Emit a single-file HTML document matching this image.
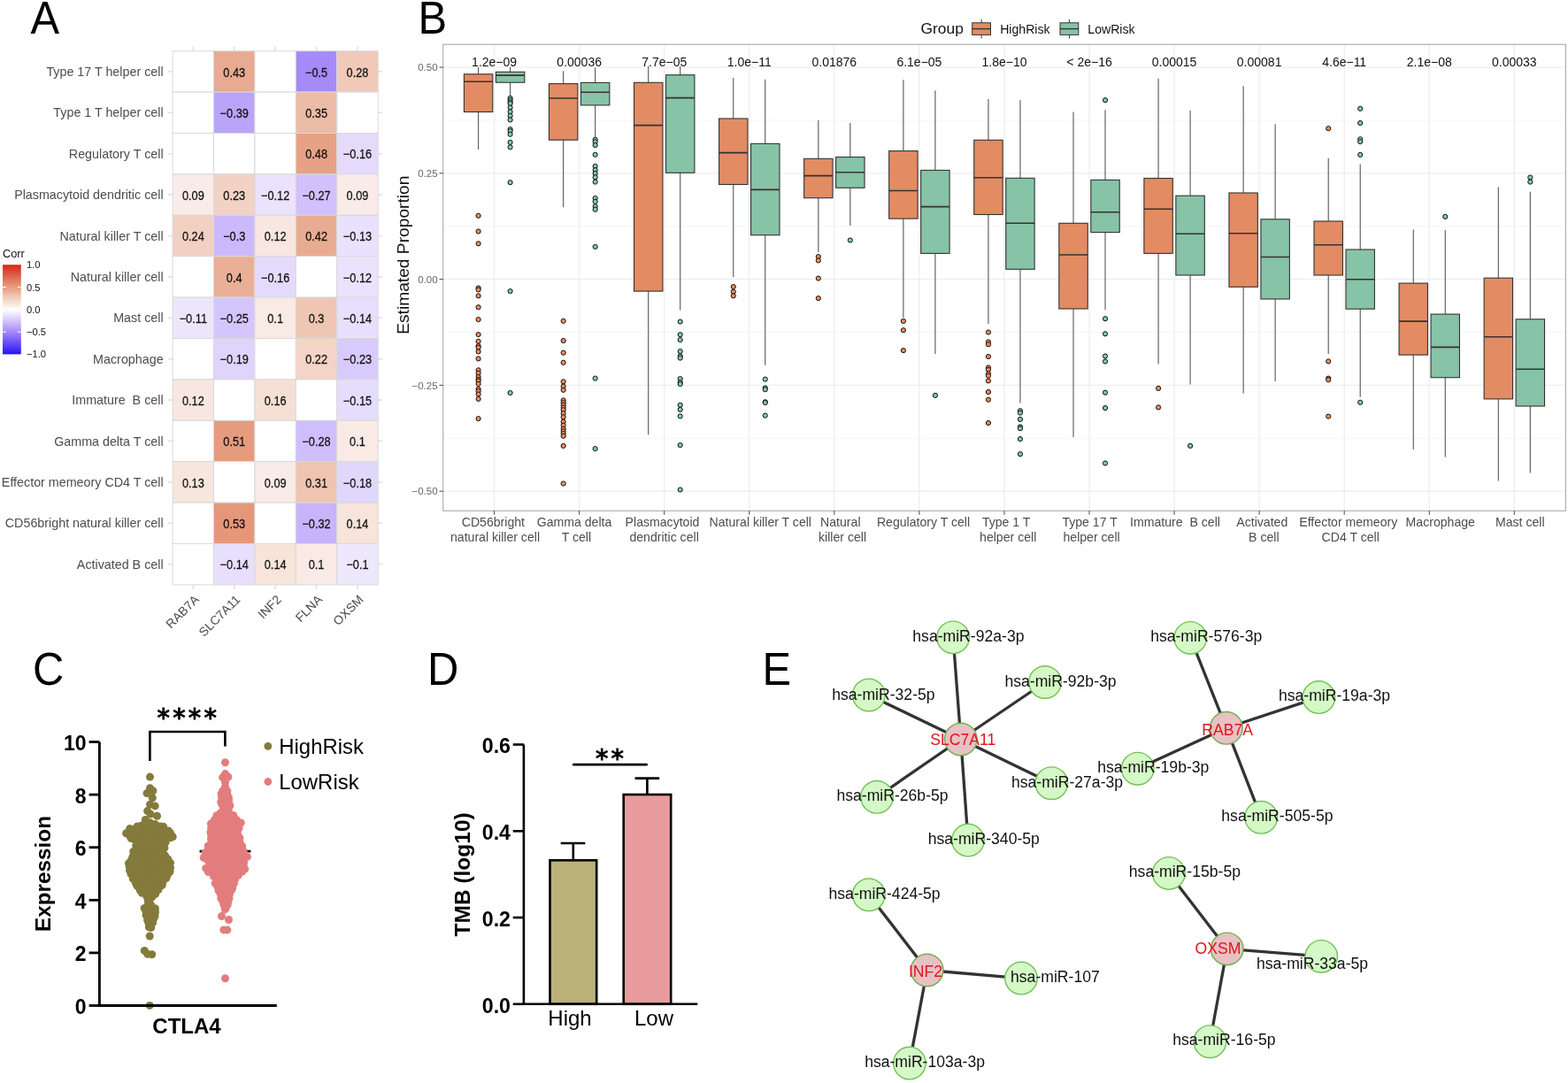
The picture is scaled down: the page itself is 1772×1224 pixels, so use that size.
<!DOCTYPE html><html><head><meta charset="utf-8"><title>Figure</title><style>
html,body{margin:0;padding:0;background:#fff;width:1772px;height:1224px;overflow:hidden}
svg{display:block}
text{font-family:'Liberation Sans', Arial, Helvetica, sans-serif}
</style></head><body>
<svg width="1772" height="1224" viewBox="0 0 1772 1224">
<rect width="1772" height="1224" fill="#fff"/>
<text transform="translate(34.5,37.9) scale(0.95,1)" font-size="51.5" fill="#000">A</text>
<text transform="translate(472.5,37.8) scale(0.95,1)" font-size="51.5" fill="#000">B</text>
<text transform="translate(37.0,774.2) scale(0.95,1)" font-size="51.5" fill="#000">C</text>
<text transform="translate(483.0,773.6) scale(0.95,1)" font-size="51.5" fill="#000">D</text>
<text transform="translate(861.5,773.8) scale(0.95,1)" font-size="51.5" fill="#000">E</text>
<line x1="218.3" y1="52.7" x2="218.3" y2="57.7" stroke="#E0E0E0" stroke-width="1.6"/>
<line x1="218.3" y1="660.9" x2="218.3" y2="665.9" stroke="#E0E0E0" stroke-width="1.6"/>
<line x1="264.7" y1="52.7" x2="264.7" y2="57.7" stroke="#E0E0E0" stroke-width="1.6"/>
<line x1="264.7" y1="660.9" x2="264.7" y2="665.9" stroke="#E0E0E0" stroke-width="1.6"/>
<line x1="311.1" y1="52.7" x2="311.1" y2="57.7" stroke="#E0E0E0" stroke-width="1.6"/>
<line x1="311.1" y1="660.9" x2="311.1" y2="665.9" stroke="#E0E0E0" stroke-width="1.6"/>
<line x1="357.6" y1="52.7" x2="357.6" y2="57.7" stroke="#E0E0E0" stroke-width="1.6"/>
<line x1="357.6" y1="660.9" x2="357.6" y2="665.9" stroke="#E0E0E0" stroke-width="1.6"/>
<line x1="404.0" y1="52.7" x2="404.0" y2="57.7" stroke="#E0E0E0" stroke-width="1.6"/>
<line x1="404.0" y1="660.9" x2="404.0" y2="665.9" stroke="#E0E0E0" stroke-width="1.6"/>
<line x1="190.1" y1="80.9" x2="195.1" y2="80.9" stroke="#E0E0E0" stroke-width="1.6"/>
<line x1="427.2" y1="80.9" x2="432.2" y2="80.9" stroke="#E0E0E0" stroke-width="1.6"/>
<line x1="190.1" y1="127.3" x2="195.1" y2="127.3" stroke="#E0E0E0" stroke-width="1.6"/>
<line x1="427.2" y1="127.3" x2="432.2" y2="127.3" stroke="#E0E0E0" stroke-width="1.6"/>
<line x1="190.1" y1="173.7" x2="195.1" y2="173.7" stroke="#E0E0E0" stroke-width="1.6"/>
<line x1="427.2" y1="173.7" x2="432.2" y2="173.7" stroke="#E0E0E0" stroke-width="1.6"/>
<line x1="190.1" y1="220.1" x2="195.1" y2="220.1" stroke="#E0E0E0" stroke-width="1.6"/>
<line x1="427.2" y1="220.1" x2="432.2" y2="220.1" stroke="#E0E0E0" stroke-width="1.6"/>
<line x1="190.1" y1="266.5" x2="195.1" y2="266.5" stroke="#E0E0E0" stroke-width="1.6"/>
<line x1="427.2" y1="266.5" x2="432.2" y2="266.5" stroke="#E0E0E0" stroke-width="1.6"/>
<line x1="190.1" y1="312.9" x2="195.1" y2="312.9" stroke="#E0E0E0" stroke-width="1.6"/>
<line x1="427.2" y1="312.9" x2="432.2" y2="312.9" stroke="#E0E0E0" stroke-width="1.6"/>
<line x1="190.1" y1="359.3" x2="195.1" y2="359.3" stroke="#E0E0E0" stroke-width="1.6"/>
<line x1="427.2" y1="359.3" x2="432.2" y2="359.3" stroke="#E0E0E0" stroke-width="1.6"/>
<line x1="190.1" y1="405.7" x2="195.1" y2="405.7" stroke="#E0E0E0" stroke-width="1.6"/>
<line x1="427.2" y1="405.7" x2="432.2" y2="405.7" stroke="#E0E0E0" stroke-width="1.6"/>
<line x1="190.1" y1="452.1" x2="195.1" y2="452.1" stroke="#E0E0E0" stroke-width="1.6"/>
<line x1="427.2" y1="452.1" x2="432.2" y2="452.1" stroke="#E0E0E0" stroke-width="1.6"/>
<line x1="190.1" y1="498.5" x2="195.1" y2="498.5" stroke="#E0E0E0" stroke-width="1.6"/>
<line x1="427.2" y1="498.5" x2="432.2" y2="498.5" stroke="#E0E0E0" stroke-width="1.6"/>
<line x1="190.1" y1="544.9" x2="195.1" y2="544.9" stroke="#E0E0E0" stroke-width="1.6"/>
<line x1="427.2" y1="544.9" x2="432.2" y2="544.9" stroke="#E0E0E0" stroke-width="1.6"/>
<line x1="190.1" y1="591.3" x2="195.1" y2="591.3" stroke="#E0E0E0" stroke-width="1.6"/>
<line x1="427.2" y1="591.3" x2="432.2" y2="591.3" stroke="#E0E0E0" stroke-width="1.6"/>
<line x1="190.1" y1="637.7" x2="195.1" y2="637.7" stroke="#E0E0E0" stroke-width="1.6"/>
<line x1="427.2" y1="637.7" x2="432.2" y2="637.7" stroke="#E0E0E0" stroke-width="1.6"/>
<rect x="195.10" y="57.70" width="46.42" height="46.40" fill="#FFFFFF" stroke="#D9D9D9" stroke-width="1"/>
<rect x="241.52" y="57.70" width="46.42" height="46.40" fill="#E8AA90" stroke="#D9D9D9" stroke-width="1"/>
<rect x="287.94" y="57.70" width="46.42" height="46.40" fill="#FFFFFF" stroke="#D9D9D9" stroke-width="1"/>
<rect x="334.36" y="57.70" width="46.42" height="46.40" fill="#A58AF8" stroke="#D9D9D9" stroke-width="1"/>
<rect x="380.78" y="57.70" width="46.42" height="46.40" fill="#F0C9B8" stroke="#D9D9D9" stroke-width="1"/>
<rect x="195.10" y="104.10" width="46.42" height="46.40" fill="#FFFFFF" stroke="#D9D9D9" stroke-width="1"/>
<rect x="241.52" y="104.10" width="46.42" height="46.40" fill="#BAA4F9" stroke="#D9D9D9" stroke-width="1"/>
<rect x="287.94" y="104.10" width="46.42" height="46.40" fill="#FFFFFF" stroke="#D9D9D9" stroke-width="1"/>
<rect x="334.36" y="104.10" width="46.42" height="46.40" fill="#ECBBA5" stroke="#D9D9D9" stroke-width="1"/>
<rect x="380.78" y="104.10" width="46.42" height="46.40" fill="#FFFFFF" stroke="#D9D9D9" stroke-width="1"/>
<rect x="195.10" y="150.50" width="46.42" height="46.40" fill="#FFFFFF" stroke="#D9D9D9" stroke-width="1"/>
<rect x="241.52" y="150.50" width="46.42" height="46.40" fill="#FFFFFF" stroke="#D9D9D9" stroke-width="1"/>
<rect x="287.94" y="150.50" width="46.42" height="46.40" fill="#FFFFFF" stroke="#D9D9D9" stroke-width="1"/>
<rect x="334.36" y="150.50" width="46.42" height="46.40" fill="#E7A185" stroke="#D9D9D9" stroke-width="1"/>
<rect x="380.78" y="150.50" width="46.42" height="46.40" fill="#E4DBFC" stroke="#D9D9D9" stroke-width="1"/>
<rect x="195.10" y="196.90" width="46.42" height="46.40" fill="#F9ECE8" stroke="#D9D9D9" stroke-width="1"/>
<rect x="241.52" y="196.90" width="46.42" height="46.40" fill="#F2D2C4" stroke="#D9D9D9" stroke-width="1"/>
<rect x="287.94" y="196.90" width="46.42" height="46.40" fill="#EBE3FD" stroke="#D9D9D9" stroke-width="1"/>
<rect x="334.36" y="196.90" width="46.42" height="46.40" fill="#D1C0FC" stroke="#D9D9D9" stroke-width="1"/>
<rect x="380.78" y="196.90" width="46.42" height="46.40" fill="#F9ECE8" stroke="#D9D9D9" stroke-width="1"/>
<rect x="195.10" y="243.30" width="46.42" height="46.40" fill="#F2D0C2" stroke="#D9D9D9" stroke-width="1"/>
<rect x="241.52" y="243.30" width="46.42" height="46.40" fill="#CCB9FB" stroke="#D9D9D9" stroke-width="1"/>
<rect x="287.94" y="243.30" width="46.42" height="46.40" fill="#F8E7E0" stroke="#D9D9D9" stroke-width="1"/>
<rect x="334.36" y="243.30" width="46.42" height="46.40" fill="#E8AC92" stroke="#D9D9D9" stroke-width="1"/>
<rect x="380.78" y="243.30" width="46.42" height="46.40" fill="#E9E1FD" stroke="#D9D9D9" stroke-width="1"/>
<rect x="195.10" y="289.70" width="46.42" height="46.40" fill="#FFFFFF" stroke="#D9D9D9" stroke-width="1"/>
<rect x="241.52" y="289.70" width="46.42" height="46.40" fill="#E9B097" stroke="#D9D9D9" stroke-width="1"/>
<rect x="287.94" y="289.70" width="46.42" height="46.40" fill="#E4DBFC" stroke="#D9D9D9" stroke-width="1"/>
<rect x="334.36" y="289.70" width="46.42" height="46.40" fill="#FFFFFF" stroke="#D9D9D9" stroke-width="1"/>
<rect x="380.78" y="289.70" width="46.42" height="46.40" fill="#EBE3FD" stroke="#D9D9D9" stroke-width="1"/>
<rect x="195.10" y="336.10" width="46.42" height="46.40" fill="#ECE6FD" stroke="#D9D9D9" stroke-width="1"/>
<rect x="241.52" y="336.10" width="46.42" height="46.40" fill="#D4C6FC" stroke="#D9D9D9" stroke-width="1"/>
<rect x="287.94" y="336.10" width="46.42" height="46.40" fill="#F9EAE5" stroke="#D9D9D9" stroke-width="1"/>
<rect x="334.36" y="336.10" width="46.42" height="46.40" fill="#EFC6B3" stroke="#D9D9D9" stroke-width="1"/>
<rect x="380.78" y="336.10" width="46.42" height="46.40" fill="#E7DFFD" stroke="#D9D9D9" stroke-width="1"/>
<rect x="195.10" y="382.50" width="46.42" height="46.40" fill="#FFFFFF" stroke="#D9D9D9" stroke-width="1"/>
<rect x="241.52" y="382.50" width="46.42" height="46.40" fill="#DED4FC" stroke="#D9D9D9" stroke-width="1"/>
<rect x="287.94" y="382.50" width="46.42" height="46.40" fill="#FFFFFF" stroke="#D9D9D9" stroke-width="1"/>
<rect x="334.36" y="382.50" width="46.42" height="46.40" fill="#F3D4C7" stroke="#D9D9D9" stroke-width="1"/>
<rect x="380.78" y="382.50" width="46.42" height="46.40" fill="#D8CAFC" stroke="#D9D9D9" stroke-width="1"/>
<rect x="195.10" y="428.90" width="46.42" height="46.40" fill="#F8E7E0" stroke="#D9D9D9" stroke-width="1"/>
<rect x="241.52" y="428.90" width="46.42" height="46.40" fill="#FFFFFF" stroke="#D9D9D9" stroke-width="1"/>
<rect x="287.94" y="428.90" width="46.42" height="46.40" fill="#F6E0D5" stroke="#D9D9D9" stroke-width="1"/>
<rect x="334.36" y="428.90" width="46.42" height="46.40" fill="#FFFFFF" stroke="#D9D9D9" stroke-width="1"/>
<rect x="380.78" y="428.90" width="46.42" height="46.40" fill="#E5DDFD" stroke="#D9D9D9" stroke-width="1"/>
<rect x="195.10" y="475.30" width="46.42" height="46.40" fill="#FFFFFF" stroke="#D9D9D9" stroke-width="1"/>
<rect x="241.52" y="475.30" width="46.42" height="46.40" fill="#E69B7E" stroke="#D9D9D9" stroke-width="1"/>
<rect x="287.94" y="475.30" width="46.42" height="46.40" fill="#FFFFFF" stroke="#D9D9D9" stroke-width="1"/>
<rect x="334.36" y="475.30" width="46.42" height="46.40" fill="#CFBEFC" stroke="#D9D9D9" stroke-width="1"/>
<rect x="380.78" y="475.30" width="46.42" height="46.40" fill="#F9EAE5" stroke="#D9D9D9" stroke-width="1"/>
<rect x="195.10" y="521.70" width="46.42" height="46.40" fill="#F7E6DD" stroke="#D9D9D9" stroke-width="1"/>
<rect x="241.52" y="521.70" width="46.42" height="46.40" fill="#FFFFFF" stroke="#D9D9D9" stroke-width="1"/>
<rect x="287.94" y="521.70" width="46.42" height="46.40" fill="#F9ECE8" stroke="#D9D9D9" stroke-width="1"/>
<rect x="334.36" y="521.70" width="46.42" height="46.40" fill="#EFC4B0" stroke="#D9D9D9" stroke-width="1"/>
<rect x="380.78" y="521.70" width="46.42" height="46.40" fill="#E0D7FC" stroke="#D9D9D9" stroke-width="1"/>
<rect x="195.10" y="568.10" width="46.42" height="46.40" fill="#FFFFFF" stroke="#D9D9D9" stroke-width="1"/>
<rect x="241.52" y="568.10" width="46.42" height="46.40" fill="#E6977A" stroke="#D9D9D9" stroke-width="1"/>
<rect x="287.94" y="568.10" width="46.42" height="46.40" fill="#FFFFFF" stroke="#D9D9D9" stroke-width="1"/>
<rect x="334.36" y="568.10" width="46.42" height="46.40" fill="#C8B4FA" stroke="#D9D9D9" stroke-width="1"/>
<rect x="380.78" y="568.10" width="46.42" height="46.40" fill="#F7E4DA" stroke="#D9D9D9" stroke-width="1"/>
<rect x="195.10" y="614.50" width="46.42" height="46.40" fill="#FFFFFF" stroke="#D9D9D9" stroke-width="1"/>
<rect x="241.52" y="614.50" width="46.42" height="46.40" fill="#E7DFFD" stroke="#D9D9D9" stroke-width="1"/>
<rect x="287.94" y="614.50" width="46.42" height="46.40" fill="#F7E4DA" stroke="#D9D9D9" stroke-width="1"/>
<rect x="334.36" y="614.50" width="46.42" height="46.40" fill="#F9EAE5" stroke="#D9D9D9" stroke-width="1"/>
<rect x="380.78" y="614.50" width="46.42" height="46.40" fill="#EEE8FD" stroke="#D9D9D9" stroke-width="1"/>
<text transform="translate(264.73,86.50) scale(0.875,1)" font-size="14.6" fill="#111" stroke="#111" stroke-width="0.25" text-anchor="middle">0.43</text>
<text transform="translate(357.57,86.50) scale(0.875,1)" font-size="14.6" fill="#111" stroke="#111" stroke-width="0.25" text-anchor="middle">−0.5</text>
<text transform="translate(403.99,86.50) scale(0.875,1)" font-size="14.6" fill="#111" stroke="#111" stroke-width="0.25" text-anchor="middle">0.28</text>
<text transform="translate(264.73,132.90) scale(0.875,1)" font-size="14.6" fill="#111" stroke="#111" stroke-width="0.25" text-anchor="middle">−0.39</text>
<text transform="translate(357.57,132.90) scale(0.875,1)" font-size="14.6" fill="#111" stroke="#111" stroke-width="0.25" text-anchor="middle">0.35</text>
<text transform="translate(357.57,179.30) scale(0.875,1)" font-size="14.6" fill="#111" stroke="#111" stroke-width="0.25" text-anchor="middle">0.48</text>
<text transform="translate(403.99,179.30) scale(0.875,1)" font-size="14.6" fill="#111" stroke="#111" stroke-width="0.25" text-anchor="middle">−0.16</text>
<text transform="translate(218.31,225.70) scale(0.875,1)" font-size="14.6" fill="#111" stroke="#111" stroke-width="0.25" text-anchor="middle">0.09</text>
<text transform="translate(264.73,225.70) scale(0.875,1)" font-size="14.6" fill="#111" stroke="#111" stroke-width="0.25" text-anchor="middle">0.23</text>
<text transform="translate(311.15,225.70) scale(0.875,1)" font-size="14.6" fill="#111" stroke="#111" stroke-width="0.25" text-anchor="middle">−0.12</text>
<text transform="translate(357.57,225.70) scale(0.875,1)" font-size="14.6" fill="#111" stroke="#111" stroke-width="0.25" text-anchor="middle">−0.27</text>
<text transform="translate(403.99,225.70) scale(0.875,1)" font-size="14.6" fill="#111" stroke="#111" stroke-width="0.25" text-anchor="middle">0.09</text>
<text transform="translate(218.31,272.10) scale(0.875,1)" font-size="14.6" fill="#111" stroke="#111" stroke-width="0.25" text-anchor="middle">0.24</text>
<text transform="translate(264.73,272.10) scale(0.875,1)" font-size="14.6" fill="#111" stroke="#111" stroke-width="0.25" text-anchor="middle">−0.3</text>
<text transform="translate(311.15,272.10) scale(0.875,1)" font-size="14.6" fill="#111" stroke="#111" stroke-width="0.25" text-anchor="middle">0.12</text>
<text transform="translate(357.57,272.10) scale(0.875,1)" font-size="14.6" fill="#111" stroke="#111" stroke-width="0.25" text-anchor="middle">0.42</text>
<text transform="translate(403.99,272.10) scale(0.875,1)" font-size="14.6" fill="#111" stroke="#111" stroke-width="0.25" text-anchor="middle">−0.13</text>
<text transform="translate(264.73,318.50) scale(0.875,1)" font-size="14.6" fill="#111" stroke="#111" stroke-width="0.25" text-anchor="middle">0.4</text>
<text transform="translate(311.15,318.50) scale(0.875,1)" font-size="14.6" fill="#111" stroke="#111" stroke-width="0.25" text-anchor="middle">−0.16</text>
<text transform="translate(403.99,318.50) scale(0.875,1)" font-size="14.6" fill="#111" stroke="#111" stroke-width="0.25" text-anchor="middle">−0.12</text>
<text transform="translate(218.31,364.90) scale(0.875,1)" font-size="14.6" fill="#111" stroke="#111" stroke-width="0.25" text-anchor="middle">−0.11</text>
<text transform="translate(264.73,364.90) scale(0.875,1)" font-size="14.6" fill="#111" stroke="#111" stroke-width="0.25" text-anchor="middle">−0.25</text>
<text transform="translate(311.15,364.90) scale(0.875,1)" font-size="14.6" fill="#111" stroke="#111" stroke-width="0.25" text-anchor="middle">0.1</text>
<text transform="translate(357.57,364.90) scale(0.875,1)" font-size="14.6" fill="#111" stroke="#111" stroke-width="0.25" text-anchor="middle">0.3</text>
<text transform="translate(403.99,364.90) scale(0.875,1)" font-size="14.6" fill="#111" stroke="#111" stroke-width="0.25" text-anchor="middle">−0.14</text>
<text transform="translate(264.73,411.30) scale(0.875,1)" font-size="14.6" fill="#111" stroke="#111" stroke-width="0.25" text-anchor="middle">−0.19</text>
<text transform="translate(357.57,411.30) scale(0.875,1)" font-size="14.6" fill="#111" stroke="#111" stroke-width="0.25" text-anchor="middle">0.22</text>
<text transform="translate(403.99,411.30) scale(0.875,1)" font-size="14.6" fill="#111" stroke="#111" stroke-width="0.25" text-anchor="middle">−0.23</text>
<text transform="translate(218.31,457.70) scale(0.875,1)" font-size="14.6" fill="#111" stroke="#111" stroke-width="0.25" text-anchor="middle">0.12</text>
<text transform="translate(311.15,457.70) scale(0.875,1)" font-size="14.6" fill="#111" stroke="#111" stroke-width="0.25" text-anchor="middle">0.16</text>
<text transform="translate(403.99,457.70) scale(0.875,1)" font-size="14.6" fill="#111" stroke="#111" stroke-width="0.25" text-anchor="middle">−0.15</text>
<text transform="translate(264.73,504.10) scale(0.875,1)" font-size="14.6" fill="#111" stroke="#111" stroke-width="0.25" text-anchor="middle">0.51</text>
<text transform="translate(357.57,504.10) scale(0.875,1)" font-size="14.6" fill="#111" stroke="#111" stroke-width="0.25" text-anchor="middle">−0.28</text>
<text transform="translate(403.99,504.10) scale(0.875,1)" font-size="14.6" fill="#111" stroke="#111" stroke-width="0.25" text-anchor="middle">0.1</text>
<text transform="translate(218.31,550.50) scale(0.875,1)" font-size="14.6" fill="#111" stroke="#111" stroke-width="0.25" text-anchor="middle">0.13</text>
<text transform="translate(311.15,550.50) scale(0.875,1)" font-size="14.6" fill="#111" stroke="#111" stroke-width="0.25" text-anchor="middle">0.09</text>
<text transform="translate(357.57,550.50) scale(0.875,1)" font-size="14.6" fill="#111" stroke="#111" stroke-width="0.25" text-anchor="middle">0.31</text>
<text transform="translate(403.99,550.50) scale(0.875,1)" font-size="14.6" fill="#111" stroke="#111" stroke-width="0.25" text-anchor="middle">−0.18</text>
<text transform="translate(264.73,596.90) scale(0.875,1)" font-size="14.6" fill="#111" stroke="#111" stroke-width="0.25" text-anchor="middle">0.53</text>
<text transform="translate(357.57,596.90) scale(0.875,1)" font-size="14.6" fill="#111" stroke="#111" stroke-width="0.25" text-anchor="middle">−0.32</text>
<text transform="translate(403.99,596.90) scale(0.875,1)" font-size="14.6" fill="#111" stroke="#111" stroke-width="0.25" text-anchor="middle">0.14</text>
<text transform="translate(264.73,643.30) scale(0.875,1)" font-size="14.6" fill="#111" stroke="#111" stroke-width="0.25" text-anchor="middle">−0.14</text>
<text transform="translate(311.15,643.30) scale(0.875,1)" font-size="14.6" fill="#111" stroke="#111" stroke-width="0.25" text-anchor="middle">0.14</text>
<text transform="translate(357.57,643.30) scale(0.875,1)" font-size="14.6" fill="#111" stroke="#111" stroke-width="0.25" text-anchor="middle">0.1</text>
<text transform="translate(403.99,643.30) scale(0.875,1)" font-size="14.6" fill="#111" stroke="#111" stroke-width="0.25" text-anchor="middle">−0.1</text>
<text x="184.6" y="85.90" font-size="14.3" fill="#4D4D4D" text-anchor="end" xml:space="preserve">Type 17 T helper cell</text>
<text x="184.6" y="132.30" font-size="14.3" fill="#4D4D4D" text-anchor="end" xml:space="preserve">Type 1 T helper cell</text>
<text x="184.6" y="178.70" font-size="14.3" fill="#4D4D4D" text-anchor="end" xml:space="preserve">Regulatory T cell</text>
<text x="184.6" y="225.10" font-size="14.3" fill="#4D4D4D" text-anchor="end" xml:space="preserve">Plasmacytoid dendritic cell</text>
<text x="184.6" y="271.50" font-size="14.3" fill="#4D4D4D" text-anchor="end" xml:space="preserve">Natural killer T cell</text>
<text x="184.6" y="317.90" font-size="14.3" fill="#4D4D4D" text-anchor="end" xml:space="preserve">Natural killer cell</text>
<text x="184.6" y="364.30" font-size="14.3" fill="#4D4D4D" text-anchor="end" xml:space="preserve">Mast cell</text>
<text x="184.6" y="410.70" font-size="14.3" fill="#4D4D4D" text-anchor="end" xml:space="preserve">Macrophage</text>
<text x="184.6" y="457.10" font-size="14.3" fill="#4D4D4D" text-anchor="end" xml:space="preserve">Immature  B cell</text>
<text x="184.6" y="503.50" font-size="14.3" fill="#4D4D4D" text-anchor="end" xml:space="preserve">Gamma delta T cell</text>
<text x="184.6" y="549.90" font-size="14.3" fill="#4D4D4D" text-anchor="end" xml:space="preserve">Effector memeory CD4 T cell</text>
<text x="184.6" y="596.30" font-size="14.3" fill="#4D4D4D" text-anchor="end" xml:space="preserve">CD56bright natural killer cell</text>
<text x="184.6" y="642.70" font-size="14.3" fill="#4D4D4D" text-anchor="end" xml:space="preserve">Activated B cell</text>
<text transform="translate(225.81,678.50) rotate(-45)" font-size="14" fill="#4D4D4D" text-anchor="end">RAB7A</text>
<text transform="translate(272.23,678.50) rotate(-45)" font-size="14" fill="#4D4D4D" text-anchor="end">SLC7A11</text>
<text transform="translate(318.65,678.50) rotate(-45)" font-size="14" fill="#4D4D4D" text-anchor="end">INF2</text>
<text transform="translate(365.07,678.50) rotate(-45)" font-size="14" fill="#4D4D4D" text-anchor="end">FLNA</text>
<text transform="translate(411.49,678.50) rotate(-45)" font-size="14" fill="#4D4D4D" text-anchor="end">OXSM</text>
<text x="3" y="290.6" font-size="12.8" fill="#111">Corr</text>
<defs><linearGradient id="cg" x1="0" y1="0" x2="0" y2="1">
<stop offset="0.000" stop-color="#D62618"/>
<stop offset="0.050" stop-color="#D93E2D"/>
<stop offset="0.100" stop-color="#DD5642"/>
<stop offset="0.150" stop-color="#E06E57"/>
<stop offset="0.200" stop-color="#E4866B"/>
<stop offset="0.250" stop-color="#E79D81"/>
<stop offset="0.300" stop-color="#E9B097"/>
<stop offset="0.350" stop-color="#EFC6B3"/>
<stop offset="0.400" stop-color="#F4D8CC"/>
<stop offset="0.450" stop-color="#F9EAE5"/>
<stop offset="0.500" stop-color="#FFFFFF"/>
<stop offset="0.550" stop-color="#EEE8FD"/>
<stop offset="0.600" stop-color="#DDD2FC"/>
<stop offset="0.650" stop-color="#CCB9FB"/>
<stop offset="0.700" stop-color="#B8A1F9"/>
<stop offset="0.750" stop-color="#A58AF8"/>
<stop offset="0.800" stop-color="#8C72F8"/>
<stop offset="0.850" stop-color="#725AF7"/>
<stop offset="0.900" stop-color="#5942F7"/>
<stop offset="0.950" stop-color="#3F2AF6"/>
<stop offset="1.000" stop-color="#2612F6"/>
</linearGradient></defs>
<rect x="3" y="299.2" width="20.8" height="101.2" fill="url(#cg)"/>
<line x1="3" y1="324.5" x2="7" y2="324.5" stroke="#fff" stroke-width="1"/>
<line x1="19.8" y1="324.5" x2="23.8" y2="324.5" stroke="#fff" stroke-width="1"/>
<line x1="3" y1="375.1" x2="7" y2="375.1" stroke="#fff" stroke-width="1"/>
<line x1="19.8" y1="375.1" x2="23.8" y2="375.1" stroke="#fff" stroke-width="1"/>
<line x1="3" y1="349.8" x2="7" y2="349.8" stroke="#fff" stroke-width="1"/>
<line x1="19.8" y1="349.8" x2="23.8" y2="349.8" stroke="#fff" stroke-width="1"/>
<text x="30.0" y="303.2" font-size="11.2" fill="#111">1.0</text>
<text x="30.0" y="328.5" font-size="11.2" fill="#111">0.5</text>
<text x="30.0" y="353.8" font-size="11.2" fill="#111">0.0</text>
<text x="30.0" y="379.1" font-size="11.2" fill="#111">−0.5</text>
<text x="30.0" y="404.4" font-size="11.2" fill="#111">−1.0</text>
<rect x="500.8" y="50.2" width="1268.6" height="527.1" fill="#fff"/>
<line x1="500.8" y1="135.94" x2="1769.4" y2="135.94" stroke="#F4F4F4" stroke-width="0.9"/>
<line x1="500.8" y1="255.71" x2="1769.4" y2="255.71" stroke="#F4F4F4" stroke-width="0.9"/>
<line x1="500.8" y1="375.49" x2="1769.4" y2="375.49" stroke="#F4F4F4" stroke-width="0.9"/>
<line x1="500.8" y1="495.26" x2="1769.4" y2="495.26" stroke="#F4F4F4" stroke-width="0.9"/>
<line x1="500.8" y1="76.05" x2="1769.4" y2="76.05" stroke="#EEEEEE" stroke-width="1.3"/>
<line x1="500.8" y1="195.83" x2="1769.4" y2="195.83" stroke="#EEEEEE" stroke-width="1.3"/>
<line x1="500.8" y1="315.60" x2="1769.4" y2="315.60" stroke="#EEEEEE" stroke-width="1.3"/>
<line x1="500.8" y1="435.38" x2="1769.4" y2="435.38" stroke="#EEEEEE" stroke-width="1.3"/>
<line x1="500.8" y1="555.15" x2="1769.4" y2="555.15" stroke="#EEEEEE" stroke-width="1.3"/>
<line x1="558.60" y1="50.2" x2="558.60" y2="577.3" stroke="#EEEEEE" stroke-width="1.3"/>
<line x1="654.66" y1="50.2" x2="654.66" y2="577.3" stroke="#EEEEEE" stroke-width="1.3"/>
<line x1="750.72" y1="50.2" x2="750.72" y2="577.3" stroke="#EEEEEE" stroke-width="1.3"/>
<line x1="846.78" y1="50.2" x2="846.78" y2="577.3" stroke="#EEEEEE" stroke-width="1.3"/>
<line x1="942.84" y1="50.2" x2="942.84" y2="577.3" stroke="#EEEEEE" stroke-width="1.3"/>
<line x1="1038.90" y1="50.2" x2="1038.90" y2="577.3" stroke="#EEEEEE" stroke-width="1.3"/>
<line x1="1134.96" y1="50.2" x2="1134.96" y2="577.3" stroke="#EEEEEE" stroke-width="1.3"/>
<line x1="1231.02" y1="50.2" x2="1231.02" y2="577.3" stroke="#EEEEEE" stroke-width="1.3"/>
<line x1="1327.08" y1="50.2" x2="1327.08" y2="577.3" stroke="#EEEEEE" stroke-width="1.3"/>
<line x1="1423.14" y1="50.2" x2="1423.14" y2="577.3" stroke="#EEEEEE" stroke-width="1.3"/>
<line x1="1519.20" y1="50.2" x2="1519.20" y2="577.3" stroke="#EEEEEE" stroke-width="1.3"/>
<line x1="1615.26" y1="50.2" x2="1615.26" y2="577.3" stroke="#EEEEEE" stroke-width="1.3"/>
<line x1="1711.32" y1="50.2" x2="1711.32" y2="577.3" stroke="#EEEEEE" stroke-width="1.3"/>
<line x1="540.60" y1="76.10" x2="540.60" y2="83.80" stroke="#555" stroke-width="1.1"/>
<line x1="540.60" y1="126.50" x2="540.60" y2="169.00" stroke="#555" stroke-width="1.1"/>
<rect x="524.40" y="83.80" width="32.40" height="42.70" fill="#E38B63" stroke="#333" stroke-width="1.1"/>
<line x1="524.40" y1="92.30" x2="556.80" y2="92.30" stroke="#333" stroke-width="1.6"/>
<circle cx="540.60" cy="243.80" r="2.6" fill="#F08A5C" stroke="#111" stroke-width="1.0"/>
<circle cx="540.60" cy="261.50" r="2.6" fill="#F08A5C" stroke="#111" stroke-width="1.0"/>
<circle cx="540.60" cy="275.30" r="2.6" fill="#F08A5C" stroke="#111" stroke-width="1.0"/>
<circle cx="540.60" cy="325.50" r="2.6" fill="#F08A5C" stroke="#111" stroke-width="1.0"/>
<circle cx="540.60" cy="327.40" r="2.6" fill="#F08A5C" stroke="#111" stroke-width="1.0"/>
<circle cx="540.60" cy="334.40" r="2.6" fill="#F08A5C" stroke="#111" stroke-width="1.0"/>
<circle cx="540.60" cy="347.20" r="2.6" fill="#F08A5C" stroke="#111" stroke-width="1.0"/>
<circle cx="540.60" cy="361.10" r="2.6" fill="#F08A5C" stroke="#111" stroke-width="1.0"/>
<circle cx="540.60" cy="378.10" r="2.6" fill="#F08A5C" stroke="#111" stroke-width="1.0"/>
<circle cx="540.60" cy="385.80" r="2.6" fill="#F08A5C" stroke="#111" stroke-width="1.0"/>
<circle cx="540.60" cy="391.10" r="2.6" fill="#F08A5C" stroke="#111" stroke-width="1.0"/>
<circle cx="540.60" cy="392.80" r="2.6" fill="#F08A5C" stroke="#111" stroke-width="1.0"/>
<circle cx="540.60" cy="397.40" r="2.6" fill="#F08A5C" stroke="#111" stroke-width="1.0"/>
<circle cx="540.60" cy="405.40" r="2.6" fill="#F08A5C" stroke="#111" stroke-width="1.0"/>
<circle cx="540.60" cy="418.30" r="2.6" fill="#F08A5C" stroke="#111" stroke-width="1.0"/>
<circle cx="540.60" cy="421.70" r="2.6" fill="#F08A5C" stroke="#111" stroke-width="1.0"/>
<circle cx="540.60" cy="426.00" r="2.6" fill="#F08A5C" stroke="#111" stroke-width="1.0"/>
<circle cx="540.60" cy="428.90" r="2.6" fill="#F08A5C" stroke="#111" stroke-width="1.0"/>
<circle cx="540.60" cy="430.60" r="2.6" fill="#F08A5C" stroke="#111" stroke-width="1.0"/>
<circle cx="540.60" cy="433.80" r="2.6" fill="#F08A5C" stroke="#111" stroke-width="1.0"/>
<circle cx="540.60" cy="439.80" r="2.6" fill="#F08A5C" stroke="#111" stroke-width="1.0"/>
<circle cx="540.60" cy="442.10" r="2.6" fill="#F08A5C" stroke="#111" stroke-width="1.0"/>
<circle cx="540.60" cy="445.50" r="2.6" fill="#F08A5C" stroke="#111" stroke-width="1.0"/>
<circle cx="540.60" cy="450.90" r="2.6" fill="#F08A5C" stroke="#111" stroke-width="1.0"/>
<circle cx="540.60" cy="473.10" r="2.6" fill="#F08A5C" stroke="#111" stroke-width="1.0"/>
<line x1="576.60" y1="76.10" x2="576.60" y2="81.30" stroke="#555" stroke-width="1.1"/>
<line x1="576.60" y1="93.20" x2="576.60" y2="110.00" stroke="#555" stroke-width="1.1"/>
<rect x="560.40" y="81.30" width="32.40" height="11.90" fill="#87C3A6" stroke="#333" stroke-width="1.1"/>
<line x1="560.40" y1="85.10" x2="592.80" y2="85.10" stroke="#333" stroke-width="1.6"/>
<circle cx="576.60" cy="111.00" r="2.6" fill="#80C9A7" stroke="#111" stroke-width="1.0"/>
<circle cx="576.60" cy="113.10" r="2.6" fill="#80C9A7" stroke="#111" stroke-width="1.0"/>
<circle cx="576.60" cy="115.30" r="2.6" fill="#80C9A7" stroke="#111" stroke-width="1.0"/>
<circle cx="576.60" cy="117.00" r="2.6" fill="#80C9A7" stroke="#111" stroke-width="1.0"/>
<circle cx="576.60" cy="121.60" r="2.6" fill="#80C9A7" stroke="#111" stroke-width="1.0"/>
<circle cx="576.60" cy="126.30" r="2.6" fill="#80C9A7" stroke="#111" stroke-width="1.0"/>
<circle cx="576.60" cy="130.80" r="2.6" fill="#80C9A7" stroke="#111" stroke-width="1.0"/>
<circle cx="576.60" cy="135.40" r="2.6" fill="#80C9A7" stroke="#111" stroke-width="1.0"/>
<circle cx="576.60" cy="146.10" r="2.6" fill="#80C9A7" stroke="#111" stroke-width="1.0"/>
<circle cx="576.60" cy="148.20" r="2.6" fill="#80C9A7" stroke="#111" stroke-width="1.0"/>
<circle cx="576.60" cy="151.80" r="2.6" fill="#80C9A7" stroke="#111" stroke-width="1.0"/>
<circle cx="576.60" cy="160.90" r="2.6" fill="#80C9A7" stroke="#111" stroke-width="1.0"/>
<circle cx="576.60" cy="166.30" r="2.6" fill="#80C9A7" stroke="#111" stroke-width="1.0"/>
<circle cx="576.60" cy="206.20" r="2.6" fill="#80C9A7" stroke="#111" stroke-width="1.0"/>
<circle cx="576.60" cy="329.10" r="2.6" fill="#80C9A7" stroke="#111" stroke-width="1.0"/>
<circle cx="576.60" cy="444.00" r="2.6" fill="#80C9A7" stroke="#111" stroke-width="1.0"/>
<line x1="636.66" y1="80.20" x2="636.66" y2="94.60" stroke="#555" stroke-width="1.1"/>
<line x1="636.66" y1="158.20" x2="636.66" y2="234.30" stroke="#555" stroke-width="1.1"/>
<rect x="620.46" y="94.60" width="32.40" height="63.60" fill="#E38B63" stroke="#333" stroke-width="1.1"/>
<line x1="620.46" y1="111.00" x2="652.86" y2="111.00" stroke="#333" stroke-width="1.6"/>
<circle cx="636.66" cy="362.80" r="2.6" fill="#F08A5C" stroke="#111" stroke-width="1.0"/>
<circle cx="636.66" cy="385.00" r="2.6" fill="#F08A5C" stroke="#111" stroke-width="1.0"/>
<circle cx="636.66" cy="398.70" r="2.6" fill="#F08A5C" stroke="#111" stroke-width="1.0"/>
<circle cx="636.66" cy="409.80" r="2.6" fill="#F08A5C" stroke="#111" stroke-width="1.0"/>
<circle cx="636.66" cy="431.30" r="2.6" fill="#F08A5C" stroke="#111" stroke-width="1.0"/>
<circle cx="636.66" cy="436.70" r="2.6" fill="#F08A5C" stroke="#111" stroke-width="1.0"/>
<circle cx="636.66" cy="440.80" r="2.6" fill="#F08A5C" stroke="#111" stroke-width="1.0"/>
<circle cx="636.66" cy="452.40" r="2.6" fill="#F08A5C" stroke="#111" stroke-width="1.0"/>
<circle cx="636.66" cy="455.10" r="2.6" fill="#F08A5C" stroke="#111" stroke-width="1.0"/>
<circle cx="636.66" cy="457.80" r="2.6" fill="#F08A5C" stroke="#111" stroke-width="1.0"/>
<circle cx="636.66" cy="460.50" r="2.6" fill="#F08A5C" stroke="#111" stroke-width="1.0"/>
<circle cx="636.66" cy="463.20" r="2.6" fill="#F08A5C" stroke="#111" stroke-width="1.0"/>
<circle cx="636.66" cy="467.20" r="2.6" fill="#F08A5C" stroke="#111" stroke-width="1.0"/>
<circle cx="636.66" cy="471.30" r="2.6" fill="#F08A5C" stroke="#111" stroke-width="1.0"/>
<circle cx="636.66" cy="476.70" r="2.6" fill="#F08A5C" stroke="#111" stroke-width="1.0"/>
<circle cx="636.66" cy="480.70" r="2.6" fill="#F08A5C" stroke="#111" stroke-width="1.0"/>
<circle cx="636.66" cy="484.70" r="2.6" fill="#F08A5C" stroke="#111" stroke-width="1.0"/>
<circle cx="636.66" cy="487.40" r="2.6" fill="#F08A5C" stroke="#111" stroke-width="1.0"/>
<circle cx="636.66" cy="490.10" r="2.6" fill="#F08A5C" stroke="#111" stroke-width="1.0"/>
<circle cx="636.66" cy="492.80" r="2.6" fill="#F08A5C" stroke="#111" stroke-width="1.0"/>
<circle cx="636.66" cy="503.90" r="2.6" fill="#F08A5C" stroke="#111" stroke-width="1.0"/>
<circle cx="636.66" cy="546.50" r="2.6" fill="#F08A5C" stroke="#111" stroke-width="1.0"/>
<line x1="672.66" y1="76.40" x2="672.66" y2="93.40" stroke="#555" stroke-width="1.1"/>
<line x1="672.66" y1="118.90" x2="672.66" y2="155.60" stroke="#555" stroke-width="1.1"/>
<rect x="656.46" y="93.40" width="32.40" height="25.50" fill="#87C3A6" stroke="#333" stroke-width="1.1"/>
<line x1="656.46" y1="104.20" x2="688.86" y2="104.20" stroke="#333" stroke-width="1.6"/>
<circle cx="672.66" cy="157.80" r="2.6" fill="#80C9A7" stroke="#111" stroke-width="1.0"/>
<circle cx="672.66" cy="160.30" r="2.6" fill="#80C9A7" stroke="#111" stroke-width="1.0"/>
<circle cx="672.66" cy="164.10" r="2.6" fill="#80C9A7" stroke="#111" stroke-width="1.0"/>
<circle cx="672.66" cy="174.80" r="2.6" fill="#80C9A7" stroke="#111" stroke-width="1.0"/>
<circle cx="672.66" cy="187.90" r="2.6" fill="#80C9A7" stroke="#111" stroke-width="1.0"/>
<circle cx="672.66" cy="192.20" r="2.6" fill="#80C9A7" stroke="#111" stroke-width="1.0"/>
<circle cx="672.66" cy="196.00" r="2.6" fill="#80C9A7" stroke="#111" stroke-width="1.0"/>
<circle cx="672.66" cy="200.30" r="2.6" fill="#80C9A7" stroke="#111" stroke-width="1.0"/>
<circle cx="672.66" cy="205.60" r="2.6" fill="#80C9A7" stroke="#111" stroke-width="1.0"/>
<circle cx="672.66" cy="224.00" r="2.6" fill="#80C9A7" stroke="#111" stroke-width="1.0"/>
<circle cx="672.66" cy="227.90" r="2.6" fill="#80C9A7" stroke="#111" stroke-width="1.0"/>
<circle cx="672.66" cy="233.20" r="2.6" fill="#80C9A7" stroke="#111" stroke-width="1.0"/>
<circle cx="672.66" cy="236.80" r="2.6" fill="#80C9A7" stroke="#111" stroke-width="1.0"/>
<circle cx="672.66" cy="278.90" r="2.6" fill="#80C9A7" stroke="#111" stroke-width="1.0"/>
<circle cx="672.66" cy="427.60" r="2.6" fill="#80C9A7" stroke="#111" stroke-width="1.0"/>
<circle cx="672.66" cy="507.10" r="2.6" fill="#80C9A7" stroke="#111" stroke-width="1.0"/>
<line x1="732.72" y1="75.00" x2="732.72" y2="93.30" stroke="#555" stroke-width="1.1"/>
<line x1="732.72" y1="329.10" x2="732.72" y2="491.50" stroke="#555" stroke-width="1.1"/>
<rect x="716.52" y="93.30" width="32.40" height="235.80" fill="#E38B63" stroke="#333" stroke-width="1.1"/>
<line x1="716.52" y1="141.60" x2="748.92" y2="141.60" stroke="#333" stroke-width="1.6"/>
<line x1="768.72" y1="75.00" x2="768.72" y2="84.70" stroke="#555" stroke-width="1.1"/>
<line x1="768.72" y1="195.30" x2="768.72" y2="350.40" stroke="#555" stroke-width="1.1"/>
<rect x="752.52" y="84.70" width="32.40" height="110.60" fill="#87C3A6" stroke="#333" stroke-width="1.1"/>
<line x1="752.52" y1="110.60" x2="784.92" y2="110.60" stroke="#333" stroke-width="1.6"/>
<circle cx="768.72" cy="363.60" r="2.6" fill="#80C9A7" stroke="#111" stroke-width="1.0"/>
<circle cx="768.72" cy="378.20" r="2.6" fill="#80C9A7" stroke="#111" stroke-width="1.0"/>
<circle cx="768.72" cy="384.10" r="2.6" fill="#80C9A7" stroke="#111" stroke-width="1.0"/>
<circle cx="768.72" cy="397.10" r="2.6" fill="#80C9A7" stroke="#111" stroke-width="1.0"/>
<circle cx="768.72" cy="402.50" r="2.6" fill="#80C9A7" stroke="#111" stroke-width="1.0"/>
<circle cx="768.72" cy="404.60" r="2.6" fill="#80C9A7" stroke="#111" stroke-width="1.0"/>
<circle cx="768.72" cy="428.10" r="2.6" fill="#80C9A7" stroke="#111" stroke-width="1.0"/>
<circle cx="768.72" cy="432.20" r="2.6" fill="#80C9A7" stroke="#111" stroke-width="1.0"/>
<circle cx="768.72" cy="434.00" r="2.6" fill="#80C9A7" stroke="#111" stroke-width="1.0"/>
<circle cx="768.72" cy="457.80" r="2.6" fill="#80C9A7" stroke="#111" stroke-width="1.0"/>
<circle cx="768.72" cy="462.90" r="2.6" fill="#80C9A7" stroke="#111" stroke-width="1.0"/>
<circle cx="768.72" cy="470.40" r="2.6" fill="#80C9A7" stroke="#111" stroke-width="1.0"/>
<circle cx="768.72" cy="503.10" r="2.6" fill="#80C9A7" stroke="#111" stroke-width="1.0"/>
<circle cx="768.72" cy="553.50" r="2.6" fill="#80C9A7" stroke="#111" stroke-width="1.0"/>
<line x1="828.78" y1="87.90" x2="828.78" y2="134.00" stroke="#555" stroke-width="1.1"/>
<line x1="828.78" y1="208.50" x2="828.78" y2="312.90" stroke="#555" stroke-width="1.1"/>
<rect x="812.58" y="134.00" width="32.40" height="74.50" fill="#E38B63" stroke="#333" stroke-width="1.1"/>
<line x1="812.58" y1="172.60" x2="844.98" y2="172.60" stroke="#333" stroke-width="1.6"/>
<circle cx="828.78" cy="324.00" r="2.6" fill="#F08A5C" stroke="#111" stroke-width="1.0"/>
<circle cx="828.78" cy="329.70" r="2.6" fill="#F08A5C" stroke="#111" stroke-width="1.0"/>
<circle cx="828.78" cy="334.30" r="2.6" fill="#F08A5C" stroke="#111" stroke-width="1.0"/>
<line x1="864.78" y1="89.80" x2="864.78" y2="162.40" stroke="#555" stroke-width="1.1"/>
<line x1="864.78" y1="265.70" x2="864.78" y2="412.70" stroke="#555" stroke-width="1.1"/>
<rect x="848.58" y="162.40" width="32.40" height="103.30" fill="#87C3A6" stroke="#333" stroke-width="1.1"/>
<line x1="848.58" y1="214.40" x2="880.98" y2="214.40" stroke="#333" stroke-width="1.6"/>
<circle cx="864.78" cy="428.60" r="2.6" fill="#80C9A7" stroke="#111" stroke-width="1.0"/>
<circle cx="864.78" cy="438.40" r="2.6" fill="#80C9A7" stroke="#111" stroke-width="1.0"/>
<circle cx="864.78" cy="440.20" r="2.6" fill="#80C9A7" stroke="#111" stroke-width="1.0"/>
<circle cx="864.78" cy="454.30" r="2.6" fill="#80C9A7" stroke="#111" stroke-width="1.0"/>
<circle cx="864.78" cy="455.10" r="2.6" fill="#80C9A7" stroke="#111" stroke-width="1.0"/>
<circle cx="864.78" cy="469.60" r="2.6" fill="#80C9A7" stroke="#111" stroke-width="1.0"/>
<line x1="924.84" y1="136.10" x2="924.84" y2="179.30" stroke="#555" stroke-width="1.1"/>
<line x1="924.84" y1="223.70" x2="924.84" y2="285.30" stroke="#555" stroke-width="1.1"/>
<rect x="908.64" y="179.30" width="32.40" height="44.40" fill="#E38B63" stroke="#333" stroke-width="1.1"/>
<line x1="908.64" y1="198.60" x2="941.04" y2="198.60" stroke="#333" stroke-width="1.6"/>
<circle cx="924.84" cy="290.10" r="2.6" fill="#F08A5C" stroke="#111" stroke-width="1.0"/>
<circle cx="924.84" cy="294.40" r="2.6" fill="#F08A5C" stroke="#111" stroke-width="1.0"/>
<circle cx="924.84" cy="314.60" r="2.6" fill="#F08A5C" stroke="#111" stroke-width="1.0"/>
<circle cx="924.84" cy="337.10" r="2.6" fill="#F08A5C" stroke="#111" stroke-width="1.0"/>
<line x1="960.84" y1="139.10" x2="960.84" y2="177.50" stroke="#555" stroke-width="1.1"/>
<line x1="960.84" y1="212.30" x2="960.84" y2="255.10" stroke="#555" stroke-width="1.1"/>
<rect x="944.64" y="177.50" width="32.40" height="34.80" fill="#87C3A6" stroke="#333" stroke-width="1.1"/>
<line x1="944.64" y1="194.70" x2="977.04" y2="194.70" stroke="#333" stroke-width="1.6"/>
<circle cx="960.84" cy="271.50" r="2.6" fill="#80C9A7" stroke="#111" stroke-width="1.0"/>
<line x1="1020.90" y1="90.30" x2="1020.90" y2="170.60" stroke="#555" stroke-width="1.1"/>
<line x1="1020.90" y1="247.10" x2="1020.90" y2="359.00" stroke="#555" stroke-width="1.1"/>
<rect x="1004.70" y="170.60" width="32.40" height="76.50" fill="#E38B63" stroke="#333" stroke-width="1.1"/>
<line x1="1004.70" y1="215.50" x2="1037.10" y2="215.50" stroke="#333" stroke-width="1.6"/>
<circle cx="1020.90" cy="362.90" r="2.6" fill="#F08A5C" stroke="#111" stroke-width="1.0"/>
<circle cx="1020.90" cy="373.20" r="2.6" fill="#F08A5C" stroke="#111" stroke-width="1.0"/>
<circle cx="1020.90" cy="396.10" r="2.6" fill="#F08A5C" stroke="#111" stroke-width="1.0"/>
<line x1="1056.90" y1="102.20" x2="1056.90" y2="192.40" stroke="#555" stroke-width="1.1"/>
<line x1="1056.90" y1="286.40" x2="1056.90" y2="400.00" stroke="#555" stroke-width="1.1"/>
<rect x="1040.70" y="192.40" width="32.40" height="94.00" fill="#87C3A6" stroke="#333" stroke-width="1.1"/>
<line x1="1040.70" y1="233.60" x2="1073.10" y2="233.60" stroke="#333" stroke-width="1.6"/>
<circle cx="1056.90" cy="446.90" r="2.6" fill="#80C9A7" stroke="#111" stroke-width="1.0"/>
<line x1="1116.96" y1="112.10" x2="1116.96" y2="158.30" stroke="#555" stroke-width="1.1"/>
<line x1="1116.96" y1="242.50" x2="1116.96" y2="365.90" stroke="#555" stroke-width="1.1"/>
<rect x="1100.76" y="158.30" width="32.40" height="84.20" fill="#E38B63" stroke="#333" stroke-width="1.1"/>
<line x1="1100.76" y1="200.80" x2="1133.16" y2="200.80" stroke="#333" stroke-width="1.6"/>
<circle cx="1116.96" cy="375.50" r="2.6" fill="#F08A5C" stroke="#111" stroke-width="1.0"/>
<circle cx="1116.96" cy="386.50" r="2.6" fill="#F08A5C" stroke="#111" stroke-width="1.0"/>
<circle cx="1116.96" cy="389.20" r="2.6" fill="#F08A5C" stroke="#111" stroke-width="1.0"/>
<circle cx="1116.96" cy="403.00" r="2.6" fill="#F08A5C" stroke="#111" stroke-width="1.0"/>
<circle cx="1116.96" cy="415.50" r="2.6" fill="#F08A5C" stroke="#111" stroke-width="1.0"/>
<circle cx="1116.96" cy="417.80" r="2.6" fill="#F08A5C" stroke="#111" stroke-width="1.0"/>
<circle cx="1116.96" cy="422.40" r="2.6" fill="#F08A5C" stroke="#111" stroke-width="1.0"/>
<circle cx="1116.96" cy="424.70" r="2.6" fill="#F08A5C" stroke="#111" stroke-width="1.0"/>
<circle cx="1116.96" cy="430.40" r="2.6" fill="#F08A5C" stroke="#111" stroke-width="1.0"/>
<circle cx="1116.96" cy="443.00" r="2.6" fill="#F08A5C" stroke="#111" stroke-width="1.0"/>
<circle cx="1116.96" cy="451.70" r="2.6" fill="#F08A5C" stroke="#111" stroke-width="1.0"/>
<circle cx="1116.96" cy="478.00" r="2.6" fill="#F08A5C" stroke="#111" stroke-width="1.0"/>
<line x1="1152.96" y1="113.20" x2="1152.96" y2="201.30" stroke="#555" stroke-width="1.1"/>
<line x1="1152.96" y1="304.30" x2="1152.96" y2="455.60" stroke="#555" stroke-width="1.1"/>
<rect x="1136.76" y="201.30" width="32.40" height="103.00" fill="#87C3A6" stroke="#333" stroke-width="1.1"/>
<line x1="1136.76" y1="252.30" x2="1169.16" y2="252.30" stroke="#333" stroke-width="1.6"/>
<circle cx="1152.96" cy="464.30" r="2.6" fill="#80C9A7" stroke="#111" stroke-width="1.0"/>
<circle cx="1152.96" cy="466.60" r="2.6" fill="#80C9A7" stroke="#111" stroke-width="1.0"/>
<circle cx="1152.96" cy="473.90" r="2.6" fill="#80C9A7" stroke="#111" stroke-width="1.0"/>
<circle cx="1152.96" cy="482.40" r="2.6" fill="#80C9A7" stroke="#111" stroke-width="1.0"/>
<circle cx="1152.96" cy="484.20" r="2.6" fill="#80C9A7" stroke="#111" stroke-width="1.0"/>
<circle cx="1152.96" cy="496.10" r="2.6" fill="#80C9A7" stroke="#111" stroke-width="1.0"/>
<circle cx="1152.96" cy="513.20" r="2.6" fill="#80C9A7" stroke="#111" stroke-width="1.0"/>
<line x1="1213.02" y1="126.50" x2="1213.02" y2="252.30" stroke="#555" stroke-width="1.1"/>
<line x1="1213.02" y1="349.00" x2="1213.02" y2="494.00" stroke="#555" stroke-width="1.1"/>
<rect x="1196.82" y="252.30" width="32.40" height="96.70" fill="#E38B63" stroke="#333" stroke-width="1.1"/>
<line x1="1196.82" y1="288.00" x2="1229.22" y2="288.00" stroke="#333" stroke-width="1.6"/>
<line x1="1249.02" y1="124.20" x2="1249.02" y2="203.40" stroke="#555" stroke-width="1.1"/>
<line x1="1249.02" y1="262.60" x2="1249.02" y2="350.30" stroke="#555" stroke-width="1.1"/>
<rect x="1232.82" y="203.40" width="32.40" height="59.20" fill="#87C3A6" stroke="#333" stroke-width="1.1"/>
<line x1="1232.82" y1="239.70" x2="1265.22" y2="239.70" stroke="#333" stroke-width="1.6"/>
<circle cx="1249.02" cy="113.20" r="2.6" fill="#80C9A7" stroke="#111" stroke-width="1.0"/>
<circle cx="1249.02" cy="360.20" r="2.6" fill="#80C9A7" stroke="#111" stroke-width="1.0"/>
<circle cx="1249.02" cy="377.30" r="2.6" fill="#80C9A7" stroke="#111" stroke-width="1.0"/>
<circle cx="1249.02" cy="402.50" r="2.6" fill="#80C9A7" stroke="#111" stroke-width="1.0"/>
<circle cx="1249.02" cy="408.50" r="2.6" fill="#80C9A7" stroke="#111" stroke-width="1.0"/>
<circle cx="1249.02" cy="443.70" r="2.6" fill="#80C9A7" stroke="#111" stroke-width="1.0"/>
<circle cx="1249.02" cy="461.10" r="2.6" fill="#80C9A7" stroke="#111" stroke-width="1.0"/>
<circle cx="1249.02" cy="523.50" r="2.6" fill="#80C9A7" stroke="#111" stroke-width="1.0"/>
<line x1="1309.08" y1="88.70" x2="1309.08" y2="201.50" stroke="#555" stroke-width="1.1"/>
<line x1="1309.08" y1="286.40" x2="1309.08" y2="411.40" stroke="#555" stroke-width="1.1"/>
<rect x="1292.88" y="201.50" width="32.40" height="84.90" fill="#E38B63" stroke="#333" stroke-width="1.1"/>
<line x1="1292.88" y1="236.30" x2="1325.28" y2="236.30" stroke="#333" stroke-width="1.6"/>
<circle cx="1309.08" cy="438.90" r="2.6" fill="#F08A5C" stroke="#111" stroke-width="1.0"/>
<circle cx="1309.08" cy="460.40" r="2.6" fill="#F08A5C" stroke="#111" stroke-width="1.0"/>
<line x1="1345.08" y1="125.10" x2="1345.08" y2="221.20" stroke="#555" stroke-width="1.1"/>
<line x1="1345.08" y1="311.00" x2="1345.08" y2="434.50" stroke="#555" stroke-width="1.1"/>
<rect x="1328.88" y="221.20" width="32.40" height="89.80" fill="#87C3A6" stroke="#333" stroke-width="1.1"/>
<line x1="1328.88" y1="264.20" x2="1361.28" y2="264.20" stroke="#333" stroke-width="1.6"/>
<circle cx="1345.08" cy="503.90" r="2.6" fill="#80C9A7" stroke="#111" stroke-width="1.0"/>
<line x1="1405.14" y1="97.20" x2="1405.14" y2="218.00" stroke="#555" stroke-width="1.1"/>
<line x1="1405.14" y1="324.30" x2="1405.14" y2="444.60" stroke="#555" stroke-width="1.1"/>
<rect x="1388.94" y="218.00" width="32.40" height="106.30" fill="#E38B63" stroke="#333" stroke-width="1.1"/>
<line x1="1388.94" y1="263.80" x2="1421.34" y2="263.80" stroke="#333" stroke-width="1.6"/>
<line x1="1441.14" y1="140.20" x2="1441.14" y2="247.80" stroke="#555" stroke-width="1.1"/>
<line x1="1441.14" y1="338.00" x2="1441.14" y2="431.10" stroke="#555" stroke-width="1.1"/>
<rect x="1424.94" y="247.80" width="32.40" height="90.20" fill="#87C3A6" stroke="#333" stroke-width="1.1"/>
<line x1="1424.94" y1="290.50" x2="1457.34" y2="290.50" stroke="#333" stroke-width="1.6"/>
<line x1="1501.20" y1="178.80" x2="1501.20" y2="250.00" stroke="#555" stroke-width="1.1"/>
<line x1="1501.20" y1="311.00" x2="1501.20" y2="399.90" stroke="#555" stroke-width="1.1"/>
<rect x="1485.00" y="250.00" width="32.40" height="61.00" fill="#E38B63" stroke="#333" stroke-width="1.1"/>
<line x1="1485.00" y1="276.70" x2="1517.40" y2="276.70" stroke="#333" stroke-width="1.6"/>
<circle cx="1501.20" cy="145.20" r="2.6" fill="#F08A5C" stroke="#111" stroke-width="1.0"/>
<circle cx="1501.20" cy="408.40" r="2.6" fill="#F08A5C" stroke="#111" stroke-width="1.0"/>
<circle cx="1501.20" cy="427.60" r="2.6" fill="#F08A5C" stroke="#111" stroke-width="1.0"/>
<circle cx="1501.20" cy="429.20" r="2.6" fill="#F08A5C" stroke="#111" stroke-width="1.0"/>
<circle cx="1501.20" cy="470.60" r="2.6" fill="#F08A5C" stroke="#111" stroke-width="1.0"/>
<line x1="1537.20" y1="185.50" x2="1537.20" y2="282.00" stroke="#555" stroke-width="1.1"/>
<line x1="1537.20" y1="349.20" x2="1537.20" y2="448.70" stroke="#555" stroke-width="1.1"/>
<rect x="1521.00" y="282.00" width="32.40" height="67.20" fill="#87C3A6" stroke="#333" stroke-width="1.1"/>
<line x1="1521.00" y1="315.80" x2="1553.40" y2="315.80" stroke="#333" stroke-width="1.6"/>
<circle cx="1537.20" cy="122.80" r="2.6" fill="#80C9A7" stroke="#111" stroke-width="1.0"/>
<circle cx="1537.20" cy="139.00" r="2.6" fill="#80C9A7" stroke="#111" stroke-width="1.0"/>
<circle cx="1537.20" cy="157.30" r="2.6" fill="#80C9A7" stroke="#111" stroke-width="1.0"/>
<circle cx="1537.20" cy="160.10" r="2.6" fill="#80C9A7" stroke="#111" stroke-width="1.0"/>
<circle cx="1537.20" cy="174.90" r="2.6" fill="#80C9A7" stroke="#111" stroke-width="1.0"/>
<circle cx="1537.20" cy="454.80" r="2.6" fill="#80C9A7" stroke="#111" stroke-width="1.0"/>
<line x1="1597.26" y1="259.60" x2="1597.26" y2="320.10" stroke="#555" stroke-width="1.1"/>
<line x1="1597.26" y1="401.10" x2="1597.26" y2="508.10" stroke="#555" stroke-width="1.1"/>
<rect x="1581.06" y="320.10" width="32.40" height="81.00" fill="#E38B63" stroke="#333" stroke-width="1.1"/>
<line x1="1581.06" y1="363.10" x2="1613.46" y2="363.10" stroke="#333" stroke-width="1.6"/>
<line x1="1633.26" y1="260.00" x2="1633.26" y2="355.10" stroke="#555" stroke-width="1.1"/>
<line x1="1633.26" y1="426.70" x2="1633.26" y2="516.60" stroke="#555" stroke-width="1.1"/>
<rect x="1617.06" y="355.10" width="32.40" height="71.60" fill="#87C3A6" stroke="#333" stroke-width="1.1"/>
<line x1="1617.06" y1="392.40" x2="1649.46" y2="392.40" stroke="#333" stroke-width="1.6"/>
<circle cx="1633.26" cy="244.90" r="2.6" fill="#80C9A7" stroke="#111" stroke-width="1.0"/>
<line x1="1693.32" y1="211.50" x2="1693.32" y2="314.20" stroke="#555" stroke-width="1.1"/>
<line x1="1693.32" y1="450.90" x2="1693.32" y2="543.60" stroke="#555" stroke-width="1.1"/>
<rect x="1677.12" y="314.20" width="32.40" height="136.70" fill="#E38B63" stroke="#333" stroke-width="1.1"/>
<line x1="1677.12" y1="380.70" x2="1709.52" y2="380.70" stroke="#333" stroke-width="1.6"/>
<line x1="1729.32" y1="216.80" x2="1729.32" y2="360.80" stroke="#555" stroke-width="1.1"/>
<line x1="1729.32" y1="459.00" x2="1729.32" y2="534.40" stroke="#555" stroke-width="1.1"/>
<rect x="1713.12" y="360.80" width="32.40" height="98.20" fill="#87C3A6" stroke="#333" stroke-width="1.1"/>
<line x1="1713.12" y1="417.30" x2="1745.52" y2="417.30" stroke="#333" stroke-width="1.6"/>
<circle cx="1729.32" cy="200.50" r="2.6" fill="#80C9A7" stroke="#111" stroke-width="1.0"/>
<circle cx="1729.32" cy="205.60" r="2.6" fill="#80C9A7" stroke="#111" stroke-width="1.0"/>
<rect x="500.8" y="50.2" width="1268.6" height="527.1" fill="none" stroke="#A8A8A8" stroke-width="1.1"/>
<line x1="496.5" y1="76.05" x2="500.8" y2="76.05" stroke="#444" stroke-width="1"/>
<text x="494.6" y="80.35" font-size="11.5" fill="#666" text-anchor="end">0.50</text>
<line x1="496.5" y1="195.83" x2="500.8" y2="195.83" stroke="#444" stroke-width="1"/>
<text x="494.6" y="200.13" font-size="11.5" fill="#666" text-anchor="end">0.25</text>
<line x1="496.5" y1="315.60" x2="500.8" y2="315.60" stroke="#444" stroke-width="1"/>
<text x="494.6" y="319.90" font-size="11.5" fill="#666" text-anchor="end">0.00</text>
<line x1="496.5" y1="435.38" x2="500.8" y2="435.38" stroke="#444" stroke-width="1"/>
<text x="494.6" y="439.68" font-size="11.5" fill="#666" text-anchor="end">−0.25</text>
<line x1="496.5" y1="555.15" x2="500.8" y2="555.15" stroke="#444" stroke-width="1"/>
<text x="494.6" y="559.45" font-size="11.5" fill="#666" text-anchor="end">−0.50</text>
<line x1="558.60" y1="577.3" x2="558.60" y2="581.8" stroke="#444" stroke-width="1"/>
<line x1="654.66" y1="577.3" x2="654.66" y2="581.8" stroke="#444" stroke-width="1"/>
<line x1="750.72" y1="577.3" x2="750.72" y2="581.8" stroke="#444" stroke-width="1"/>
<line x1="846.78" y1="577.3" x2="846.78" y2="581.8" stroke="#444" stroke-width="1"/>
<line x1="942.84" y1="577.3" x2="942.84" y2="581.8" stroke="#444" stroke-width="1"/>
<line x1="1038.90" y1="577.3" x2="1038.90" y2="581.8" stroke="#444" stroke-width="1"/>
<line x1="1134.96" y1="577.3" x2="1134.96" y2="581.8" stroke="#444" stroke-width="1"/>
<line x1="1231.02" y1="577.3" x2="1231.02" y2="581.8" stroke="#444" stroke-width="1"/>
<line x1="1327.08" y1="577.3" x2="1327.08" y2="581.8" stroke="#444" stroke-width="1"/>
<line x1="1423.14" y1="577.3" x2="1423.14" y2="581.8" stroke="#444" stroke-width="1"/>
<line x1="1519.20" y1="577.3" x2="1519.20" y2="581.8" stroke="#444" stroke-width="1"/>
<line x1="1615.26" y1="577.3" x2="1615.26" y2="581.8" stroke="#444" stroke-width="1"/>
<line x1="1711.32" y1="577.3" x2="1711.32" y2="581.8" stroke="#444" stroke-width="1"/>
<text transform="translate(461.7,288.2) rotate(-90)" font-size="19.2" fill="#111" text-anchor="middle">Estimated Proportion</text>
<text x="558.60" y="74.6" font-size="14" fill="#111" text-anchor="middle">1.2e−09</text>
<text x="654.66" y="74.6" font-size="14" fill="#111" text-anchor="middle">0.00036</text>
<text x="750.72" y="74.6" font-size="14" fill="#111" text-anchor="middle">7.7e−05</text>
<text x="846.78" y="74.6" font-size="14" fill="#111" text-anchor="middle">1.0e−11</text>
<text x="942.84" y="74.6" font-size="14" fill="#111" text-anchor="middle">0.01876</text>
<text x="1038.90" y="74.6" font-size="14" fill="#111" text-anchor="middle">6.1e−05</text>
<text x="1134.96" y="74.6" font-size="14" fill="#111" text-anchor="middle">1.8e−10</text>
<text x="1231.02" y="74.6" font-size="14" fill="#111" text-anchor="middle">&lt; 2e−16</text>
<text x="1327.08" y="74.6" font-size="14" fill="#111" text-anchor="middle">0.00015</text>
<text x="1423.14" y="74.6" font-size="14" fill="#111" text-anchor="middle">0.00081</text>
<text x="1519.20" y="74.6" font-size="14" fill="#111" text-anchor="middle">4.6e−11</text>
<text x="1615.26" y="74.6" font-size="14" fill="#111" text-anchor="middle">2.1e−08</text>
<text x="1711.32" y="74.6" font-size="14" fill="#111" text-anchor="middle">0.00033</text>
<text x="557.4" y="594.8" font-size="14.1" fill="#4D4D4D" text-anchor="middle" xml:space="preserve">CD56bright</text>
<text x="559.5" y="611.8" font-size="14.1" fill="#4D4D4D" text-anchor="middle">natural killer cell</text>
<text x="649.0" y="594.8" font-size="14.1" fill="#4D4D4D" text-anchor="middle" xml:space="preserve">Gamma delta</text>
<text x="651.4" y="611.8" font-size="14.1" fill="#4D4D4D" text-anchor="middle">T cell</text>
<text x="748.5" y="594.8" font-size="14.1" fill="#4D4D4D" text-anchor="middle" xml:space="preserve">Plasmacytoid</text>
<text x="750.6" y="611.8" font-size="14.1" fill="#4D4D4D" text-anchor="middle">dendritic cell</text>
<text x="859.3" y="594.8" font-size="14.1" fill="#4D4D4D" text-anchor="middle" xml:space="preserve">Natural killer T cell</text>
<text x="949.8" y="594.8" font-size="14.1" fill="#4D4D4D" text-anchor="middle" xml:space="preserve">Natural</text>
<text x="952.1" y="611.8" font-size="14.1" fill="#4D4D4D" text-anchor="middle">killer cell</text>
<text x="1043.5" y="594.8" font-size="14.1" fill="#4D4D4D" text-anchor="middle" xml:space="preserve">Regulatory T cell</text>
<text x="1137.2" y="594.8" font-size="14.1" fill="#4D4D4D" text-anchor="middle" xml:space="preserve">Type 1 T</text>
<text x="1139.2" y="611.8" font-size="14.1" fill="#4D4D4D" text-anchor="middle">helper cell</text>
<text x="1231.6" y="594.8" font-size="14.1" fill="#4D4D4D" text-anchor="middle" xml:space="preserve">Type 17 T</text>
<text x="1233.6" y="611.8" font-size="14.1" fill="#4D4D4D" text-anchor="middle">helper cell</text>
<text x="1328.0" y="594.8" font-size="14.1" fill="#4D4D4D" text-anchor="middle" xml:space="preserve">Immature  B cell</text>
<text x="1426.3" y="594.8" font-size="14.1" fill="#4D4D4D" text-anchor="middle" xml:space="preserve">Activated</text>
<text x="1428.3" y="611.8" font-size="14.1" fill="#4D4D4D" text-anchor="middle">B cell</text>
<text x="1523.8" y="594.8" font-size="14.1" fill="#4D4D4D" text-anchor="middle" xml:space="preserve">Effector memeory</text>
<text x="1526.2" y="611.8" font-size="14.1" fill="#4D4D4D" text-anchor="middle">CD4 T cell</text>
<text x="1627.8" y="594.8" font-size="14.1" fill="#4D4D4D" text-anchor="middle" xml:space="preserve">Macrophage</text>
<text x="1717.8" y="594.8" font-size="14.1" fill="#4D4D4D" text-anchor="middle" xml:space="preserve">Mast cell</text>
<text x="1040.5" y="38.4" font-size="17.4" fill="#111">Group</text>
<line x1="1109.1" y1="21.9" x2="1109.1" y2="43.5" stroke="#333" stroke-width="1"/>
<rect x="1098.7" y="25.8" width="20.8" height="13.6" fill="#E38B63" stroke="#333" stroke-width="1"/>
<line x1="1098.7" y1="32.6" x2="1119.5" y2="32.6" stroke="#333" stroke-width="1.4"/>
<text x="1130.2" y="38.2" font-size="14.1" fill="#111">HighRisk</text>
<line x1="1208.4" y1="21.9" x2="1208.4" y2="43.5" stroke="#333" stroke-width="1"/>
<rect x="1198.0" y="25.8" width="20.8" height="13.6" fill="#87C3A6" stroke="#333" stroke-width="1"/>
<line x1="1198.0" y1="32.6" x2="1218.8" y2="32.6" stroke="#333" stroke-width="1.4"/>
<text x="1229.3" y="38.2" font-size="14.1" fill="#111">LowRisk</text>
<line x1="225.6" y1="962.1" x2="283.4" y2="962.1" stroke="#000" stroke-width="2.6"/>
<line x1="146" y1="977.5" x2="193" y2="977.5" stroke="#000" stroke-width="2.6"/>
<g fill="#847A3C"><circle cx="155.0" cy="934.1" r="4.5"/><circle cx="184.7" cy="934.2" r="4.5"/><circle cx="159.9" cy="933.0" r="4.5"/><circle cx="163.9" cy="934.8" r="4.5"/><circle cx="169.5" cy="933.4" r="4.5"/><circle cx="176.2" cy="933.9" r="4.5"/><circle cx="181.0" cy="933.9" r="4.5"/><circle cx="148.9" cy="937.5" r="4.5"/><circle cx="190.4" cy="938.9" r="4.5"/><circle cx="152.5" cy="938.8" r="4.5"/><circle cx="157.7" cy="937.2" r="4.5"/><circle cx="162.8" cy="938.4" r="4.5"/><circle cx="166.8" cy="937.1" r="4.5"/><circle cx="172.8" cy="938.1" r="4.5"/><circle cx="177.5" cy="939.1" r="4.5"/><circle cx="182.4" cy="939.2" r="4.5"/><circle cx="186.7" cy="938.9" r="4.5"/><circle cx="146.2" cy="943.3" r="4.5"/><circle cx="192.6" cy="941.6" r="4.5"/><circle cx="149.4" cy="941.7" r="4.5"/><circle cx="156.0" cy="942.2" r="4.5"/><circle cx="160.2" cy="941.9" r="4.5"/><circle cx="164.9" cy="942.1" r="4.5"/><circle cx="169.5" cy="942.6" r="4.5"/><circle cx="174.9" cy="943.4" r="4.5"/><circle cx="180.1" cy="943.4" r="4.5"/><circle cx="185.3" cy="943.6" r="4.5"/><circle cx="189.9" cy="941.6" r="4.5"/><circle cx="148.3" cy="947.5" r="4.5"/><circle cx="192.5" cy="946.7" r="4.5"/><circle cx="151.6" cy="945.9" r="4.5"/><circle cx="156.7" cy="946.8" r="4.5"/><circle cx="160.4" cy="945.6" r="4.5"/><circle cx="166.3" cy="947.8" r="4.5"/><circle cx="169.6" cy="947.3" r="4.5"/><circle cx="175.1" cy="945.8" r="4.5"/><circle cx="179.7" cy="947.2" r="4.5"/><circle cx="185.6" cy="945.5" r="4.5"/><circle cx="189.9" cy="945.5" r="4.5"/><circle cx="153.4" cy="950.5" r="4.5"/><circle cx="187.2" cy="951.8" r="4.5"/><circle cx="157.2" cy="952.0" r="4.5"/><circle cx="162.1" cy="949.8" r="4.5"/><circle cx="168.0" cy="949.7" r="4.5"/><circle cx="172.6" cy="950.6" r="4.5"/><circle cx="178.7" cy="950.0" r="4.5"/><circle cx="182.9" cy="951.7" r="4.5"/><circle cx="153.7" cy="955.9" r="4.5"/><circle cx="185.5" cy="954.8" r="4.5"/><circle cx="157.8" cy="955.0" r="4.5"/><circle cx="163.1" cy="955.2" r="4.5"/><circle cx="167.9" cy="955.3" r="4.5"/><circle cx="173.6" cy="955.0" r="4.5"/><circle cx="177.5" cy="955.5" r="4.5"/><circle cx="182.0" cy="954.5" r="4.5"/><circle cx="154.3" cy="959.2" r="4.5"/><circle cx="185.9" cy="958.2" r="4.5"/><circle cx="156.9" cy="959.4" r="4.5"/><circle cx="161.1" cy="959.5" r="4.5"/><circle cx="167.4" cy="958.1" r="4.5"/><circle cx="172.4" cy="959.1" r="4.5"/><circle cx="177.5" cy="958.8" r="4.5"/><circle cx="182.5" cy="959.8" r="4.5"/><circle cx="150.7" cy="962.5" r="4.5"/><circle cx="184.2" cy="964.3" r="4.5"/><circle cx="155.2" cy="963.3" r="4.5"/><circle cx="160.9" cy="963.0" r="4.5"/><circle cx="165.4" cy="963.0" r="4.5"/><circle cx="170.4" cy="963.6" r="4.5"/><circle cx="175.3" cy="963.1" r="4.5"/><circle cx="181.2" cy="962.3" r="4.5"/><circle cx="150.0" cy="968.1" r="4.5"/><circle cx="186.6" cy="967.0" r="4.5"/><circle cx="154.1" cy="967.0" r="4.5"/><circle cx="157.7" cy="967.4" r="4.5"/><circle cx="163.6" cy="966.6" r="4.5"/><circle cx="167.6" cy="967.2" r="4.5"/><circle cx="173.5" cy="967.5" r="4.5"/><circle cx="178.4" cy="966.8" r="4.5"/><circle cx="182.1" cy="968.0" r="4.5"/><circle cx="148.5" cy="971.7" r="4.5"/><circle cx="189.8" cy="971.0" r="4.5"/><circle cx="151.5" cy="971.1" r="4.5"/><circle cx="156.9" cy="972.6" r="4.5"/><circle cx="160.5" cy="971.3" r="4.5"/><circle cx="166.6" cy="972.1" r="4.5"/><circle cx="171.5" cy="971.4" r="4.5"/><circle cx="175.0" cy="971.3" r="4.5"/><circle cx="181.2" cy="971.3" r="4.5"/><circle cx="185.1" cy="971.6" r="4.5"/><circle cx="145.4" cy="975.8" r="4.5"/><circle cx="192.5" cy="975.3" r="4.5"/><circle cx="148.5" cy="977.1" r="4.5"/><circle cx="155.3" cy="977.2" r="4.5"/><circle cx="159.4" cy="977.1" r="4.5"/><circle cx="165.4" cy="975.3" r="4.5"/><circle cx="170.0" cy="976.8" r="4.5"/><circle cx="174.8" cy="976.0" r="4.5"/><circle cx="179.1" cy="975.6" r="4.5"/><circle cx="184.0" cy="975.0" r="4.5"/><circle cx="189.7" cy="975.5" r="4.5"/><circle cx="146.3" cy="979.3" r="4.5"/><circle cx="192.5" cy="980.6" r="4.5"/><circle cx="150.3" cy="981.2" r="4.5"/><circle cx="155.3" cy="980.4" r="4.5"/><circle cx="158.5" cy="980.8" r="4.5"/><circle cx="163.8" cy="979.7" r="4.5"/><circle cx="169.8" cy="980.3" r="4.5"/><circle cx="174.3" cy="981.3" r="4.5"/><circle cx="179.7" cy="979.8" r="4.5"/><circle cx="184.0" cy="981.1" r="4.5"/><circle cx="189.5" cy="980.9" r="4.5"/><circle cx="146.5" cy="983.8" r="4.5"/><circle cx="192.1" cy="985.0" r="4.5"/><circle cx="149.8" cy="985.1" r="4.5"/><circle cx="156.1" cy="985.1" r="4.5"/><circle cx="160.6" cy="983.2" r="4.5"/><circle cx="165.0" cy="985.3" r="4.5"/><circle cx="168.6" cy="983.9" r="4.5"/><circle cx="173.8" cy="984.5" r="4.5"/><circle cx="178.9" cy="984.3" r="4.5"/><circle cx="184.3" cy="983.2" r="4.5"/><circle cx="187.6" cy="983.5" r="4.5"/><circle cx="148.0" cy="987.7" r="4.5"/><circle cx="189.1" cy="989.3" r="4.5"/><circle cx="151.7" cy="988.6" r="4.5"/><circle cx="157.0" cy="988.2" r="4.5"/><circle cx="161.9" cy="989.0" r="4.5"/><circle cx="167.3" cy="988.3" r="4.5"/><circle cx="171.3" cy="988.2" r="4.5"/><circle cx="176.0" cy="988.7" r="4.5"/><circle cx="182.0" cy="988.3" r="4.5"/><circle cx="185.6" cy="987.8" r="4.5"/><circle cx="150.2" cy="993.0" r="4.5"/><circle cx="187.9" cy="992.6" r="4.5"/><circle cx="155.0" cy="993.1" r="4.5"/><circle cx="159.3" cy="992.5" r="4.5"/><circle cx="164.5" cy="993.3" r="4.5"/><circle cx="169.3" cy="993.3" r="4.5"/><circle cx="174.4" cy="992.2" r="4.5"/><circle cx="179.6" cy="993.3" r="4.5"/><circle cx="183.7" cy="992.6" r="4.5"/><circle cx="153.3" cy="997.8" r="4.5"/><circle cx="184.0" cy="996.7" r="4.5"/><circle cx="158.0" cy="997.7" r="4.5"/><circle cx="161.5" cy="996.9" r="4.5"/><circle cx="166.1" cy="997.8" r="4.5"/><circle cx="171.9" cy="997.9" r="4.5"/><circle cx="177.0" cy="997.4" r="4.5"/><circle cx="181.7" cy="997.2" r="4.5"/><circle cx="155.0" cy="1001.4" r="4.5"/><circle cx="183.2" cy="1000.5" r="4.5"/><circle cx="160.1" cy="1000.1" r="4.5"/><circle cx="163.5" cy="1000.2" r="4.5"/><circle cx="169.8" cy="1000.4" r="4.5"/><circle cx="172.8" cy="1002.0" r="4.5"/><circle cx="177.7" cy="1002.0" r="4.5"/><circle cx="158.2" cy="1006.1" r="4.5"/><circle cx="179.0" cy="1005.6" r="4.5"/><circle cx="162.2" cy="1004.3" r="4.5"/><circle cx="167.0" cy="1005.4" r="4.5"/><circle cx="171.8" cy="1004.5" r="4.5"/><circle cx="176.7" cy="1006.4" r="4.5"/><circle cx="160.5" cy="1009.2" r="4.5"/><circle cx="175.7" cy="1010.3" r="4.5"/><circle cx="165.4" cy="1008.8" r="4.5"/><circle cx="170.9" cy="1009.9" r="4.5"/><circle cx="166.0" cy="1013.6" r="4.5"/><circle cx="172.1" cy="1013.6" r="4.5"/><circle cx="168.3" cy="1013.6" r="4.5"/><circle cx="168.7" cy="1018.0" r="4.5"/><circle cx="167.2" cy="1017.8" r="4.5"/><circle cx="167.5" cy="1021.5" r="4.5"/><circle cx="170.6" cy="1022.7" r="4.5"/><circle cx="163.1" cy="1026.4" r="4.5"/><circle cx="175.4" cy="1026.7" r="4.5"/><circle cx="167.4" cy="1025.6" r="4.5"/><circle cx="170.7" cy="1027.0" r="4.5"/><circle cx="165.0" cy="1030.6" r="4.5"/><circle cx="175.5" cy="1031.0" r="4.5"/><circle cx="166.9" cy="1030.0" r="4.5"/><circle cx="171.4" cy="1030.8" r="4.5"/><circle cx="165.1" cy="1034.3" r="4.5"/><circle cx="175.0" cy="1035.7" r="4.5"/><circle cx="170.1" cy="1035.3" r="4.5"/><circle cx="166.6" cy="1039.7" r="4.5"/><circle cx="173.5" cy="1038.5" r="4.5"/><circle cx="169.6" cy="1037.9" r="4.5"/><circle cx="167.8" cy="1043.0" r="4.5"/><circle cx="172.6" cy="1042.9" r="4.5"/><circle cx="168.4" cy="1047.9" r="4.5"/><circle cx="170.8" cy="1048.4" r="4.5"/><circle cx="169.5" cy="878.1" r="4.5"/><circle cx="169.5" cy="890.7" r="4.5"/><circle cx="172.9" cy="893.7" r="4.5"/><circle cx="166.0" cy="896.6" r="4.5"/><circle cx="172.3" cy="901.8" r="4.5"/><circle cx="169.5" cy="909.2" r="4.5"/><circle cx="175.2" cy="910.9" r="4.5"/><circle cx="166.6" cy="916.6" r="4.5"/><circle cx="177.5" cy="922.3" r="4.5"/><circle cx="164.3" cy="926.4" r="4.5"/><circle cx="175.2" cy="931.5" r="4.5"/><circle cx="169.5" cy="929.8" r="4.5"/><circle cx="170.0" cy="920.0" r="4.5"/><circle cx="146.6" cy="936.6" r="4.5"/><circle cx="155.2" cy="936.6" r="4.5"/><circle cx="142.6" cy="941.8" r="4.5"/><circle cx="191.8" cy="941.2" r="4.5"/><circle cx="195.2" cy="945.8" r="4.5"/><circle cx="147.2" cy="945.8" r="4.5"/><circle cx="169.2" cy="1058.0" r="4.5"/><circle cx="163.3" cy="1074.5" r="4.5"/><circle cx="171.7" cy="1078.8" r="4.5"/><circle cx="166.8" cy="1078.2" r="4.5"/><circle cx="169.2" cy="1136.4" r="4.5"/></g>
<g fill="#E37D7D"><circle cx="251.9" cy="893.5" r="4.5"/><circle cx="256.8" cy="893.9" r="4.5"/><circle cx="255.0" cy="894.0" r="4.5"/><circle cx="250.0" cy="897.1" r="4.5"/><circle cx="256.9" cy="897.5" r="4.5"/><circle cx="255.3" cy="896.3" r="4.5"/><circle cx="250.5" cy="900.9" r="4.5"/><circle cx="258.4" cy="901.5" r="4.5"/><circle cx="253.5" cy="900.7" r="4.5"/><circle cx="249.7" cy="906.4" r="4.5"/><circle cx="258.6" cy="904.9" r="4.5"/><circle cx="255.3" cy="904.7" r="4.5"/><circle cx="250.8" cy="909.1" r="4.5"/><circle cx="259.9" cy="910.5" r="4.5"/><circle cx="254.1" cy="909.1" r="4.5"/><circle cx="252.3" cy="914.7" r="4.5"/><circle cx="258.3" cy="914.9" r="4.5"/><circle cx="254.6" cy="914.4" r="4.5"/><circle cx="248.8" cy="919.1" r="4.5"/><circle cx="258.9" cy="919.1" r="4.5"/><circle cx="255.1" cy="917.7" r="4.5"/><circle cx="244.9" cy="921.7" r="4.5"/><circle cx="263.8" cy="921.5" r="4.5"/><circle cx="248.7" cy="922.6" r="4.5"/><circle cx="253.1" cy="922.8" r="4.5"/><circle cx="258.8" cy="921.9" r="4.5"/><circle cx="242.4" cy="926.6" r="4.5"/><circle cx="267.4" cy="926.6" r="4.5"/><circle cx="246.5" cy="925.5" r="4.5"/><circle cx="252.6" cy="925.5" r="4.5"/><circle cx="257.6" cy="927.4" r="4.5"/><circle cx="261.6" cy="927.3" r="4.5"/><circle cx="238.4" cy="931.0" r="4.5"/><circle cx="272.3" cy="929.9" r="4.5"/><circle cx="242.0" cy="931.9" r="4.5"/><circle cx="246.9" cy="931.4" r="4.5"/><circle cx="253.4" cy="931.9" r="4.5"/><circle cx="257.1" cy="930.5" r="4.5"/><circle cx="262.4" cy="931.5" r="4.5"/><circle cx="266.6" cy="931.4" r="4.5"/><circle cx="238.7" cy="935.7" r="4.5"/><circle cx="270.1" cy="935.9" r="4.5"/><circle cx="240.9" cy="934.6" r="4.5"/><circle cx="246.7" cy="936.0" r="4.5"/><circle cx="250.9" cy="936.0" r="4.5"/><circle cx="256.0" cy="934.5" r="4.5"/><circle cx="260.3" cy="934.2" r="4.5"/><circle cx="264.6" cy="934.2" r="4.5"/><circle cx="238.0" cy="940.2" r="4.5"/><circle cx="268.7" cy="938.3" r="4.5"/><circle cx="242.1" cy="939.3" r="4.5"/><circle cx="245.6" cy="938.6" r="4.5"/><circle cx="250.6" cy="940.0" r="4.5"/><circle cx="255.0" cy="939.0" r="4.5"/><circle cx="258.8" cy="940.2" r="4.5"/><circle cx="263.4" cy="939.2" r="4.5"/><circle cx="238.3" cy="942.7" r="4.5"/><circle cx="269.2" cy="944.3" r="4.5"/><circle cx="241.7" cy="944.1" r="4.5"/><circle cx="245.5" cy="943.2" r="4.5"/><circle cx="250.5" cy="944.2" r="4.5"/><circle cx="255.7" cy="943.3" r="4.5"/><circle cx="262.0" cy="944.2" r="4.5"/><circle cx="266.9" cy="943.3" r="4.5"/><circle cx="238.4" cy="948.1" r="4.5"/><circle cx="270.9" cy="947.2" r="4.5"/><circle cx="242.1" cy="946.8" r="4.5"/><circle cx="247.0" cy="948.8" r="4.5"/><circle cx="253.1" cy="947.9" r="4.5"/><circle cx="257.1" cy="947.2" r="4.5"/><circle cx="261.2" cy="947.1" r="4.5"/><circle cx="267.6" cy="948.5" r="4.5"/><circle cx="238.8" cy="952.4" r="4.5"/><circle cx="271.1" cy="952.2" r="4.5"/><circle cx="243.3" cy="952.4" r="4.5"/><circle cx="247.6" cy="952.3" r="4.5"/><circle cx="252.4" cy="951.8" r="4.5"/><circle cx="258.4" cy="952.3" r="4.5"/><circle cx="262.4" cy="952.9" r="4.5"/><circle cx="268.1" cy="952.0" r="4.5"/><circle cx="235.2" cy="956.1" r="4.5"/><circle cx="273.6" cy="956.3" r="4.5"/><circle cx="240.0" cy="956.8" r="4.5"/><circle cx="245.2" cy="956.7" r="4.5"/><circle cx="249.5" cy="956.3" r="4.5"/><circle cx="255.1" cy="956.8" r="4.5"/><circle cx="259.2" cy="956.8" r="4.5"/><circle cx="265.2" cy="956.5" r="4.5"/><circle cx="270.2" cy="957.1" r="4.5"/><circle cx="235.3" cy="960.3" r="4.5"/><circle cx="274.5" cy="960.9" r="4.5"/><circle cx="240.1" cy="960.1" r="4.5"/><circle cx="244.7" cy="960.7" r="4.5"/><circle cx="249.9" cy="959.4" r="4.5"/><circle cx="255.1" cy="960.4" r="4.5"/><circle cx="259.9" cy="960.0" r="4.5"/><circle cx="264.9" cy="960.9" r="4.5"/><circle cx="270.0" cy="960.7" r="4.5"/><circle cx="232.0" cy="963.7" r="4.5"/><circle cx="276.1" cy="964.7" r="4.5"/><circle cx="236.4" cy="964.8" r="4.5"/><circle cx="242.2" cy="963.3" r="4.5"/><circle cx="246.9" cy="963.7" r="4.5"/><circle cx="251.1" cy="963.5" r="4.5"/><circle cx="256.6" cy="963.6" r="4.5"/><circle cx="261.4" cy="963.3" r="4.5"/><circle cx="267.0" cy="964.1" r="4.5"/><circle cx="272.3" cy="964.6" r="4.5"/><circle cx="230.2" cy="969.4" r="4.5"/><circle cx="279.4" cy="968.4" r="4.5"/><circle cx="234.2" cy="968.4" r="4.5"/><circle cx="238.8" cy="969.4" r="4.5"/><circle cx="244.3" cy="967.5" r="4.5"/><circle cx="249.8" cy="967.6" r="4.5"/><circle cx="254.6" cy="968.2" r="4.5"/><circle cx="259.6" cy="969.7" r="4.5"/><circle cx="265.1" cy="968.4" r="4.5"/><circle cx="270.0" cy="968.9" r="4.5"/><circle cx="274.1" cy="967.7" r="4.5"/><circle cx="235.2" cy="972.9" r="4.5"/><circle cx="275.5" cy="973.7" r="4.5"/><circle cx="239.0" cy="972.4" r="4.5"/><circle cx="244.4" cy="971.6" r="4.5"/><circle cx="247.7" cy="973.0" r="4.5"/><circle cx="253.6" cy="971.9" r="4.5"/><circle cx="258.5" cy="973.7" r="4.5"/><circle cx="262.8" cy="972.6" r="4.5"/><circle cx="267.3" cy="972.3" r="4.5"/><circle cx="273.7" cy="972.5" r="4.5"/><circle cx="237.4" cy="977.8" r="4.5"/><circle cx="275.4" cy="976.5" r="4.5"/><circle cx="241.4" cy="977.0" r="4.5"/><circle cx="245.5" cy="976.6" r="4.5"/><circle cx="251.8" cy="977.0" r="4.5"/><circle cx="255.6" cy="976.9" r="4.5"/><circle cx="260.4" cy="977.3" r="4.5"/><circle cx="266.3" cy="976.5" r="4.5"/><circle cx="272.1" cy="977.8" r="4.5"/><circle cx="232.7" cy="981.3" r="4.5"/><circle cx="276.7" cy="982.1" r="4.5"/><circle cx="238.1" cy="980.6" r="4.5"/><circle cx="242.1" cy="980.4" r="4.5"/><circle cx="248.5" cy="980.7" r="4.5"/><circle cx="252.7" cy="981.1" r="4.5"/><circle cx="257.7" cy="981.4" r="4.5"/><circle cx="262.9" cy="980.3" r="4.5"/><circle cx="267.9" cy="980.7" r="4.5"/><circle cx="272.4" cy="980.8" r="4.5"/><circle cx="235.4" cy="985.5" r="4.5"/><circle cx="273.8" cy="985.1" r="4.5"/><circle cx="240.2" cy="985.6" r="4.5"/><circle cx="243.8" cy="984.8" r="4.5"/><circle cx="249.7" cy="986.4" r="4.5"/><circle cx="255.5" cy="985.5" r="4.5"/><circle cx="258.8" cy="986.1" r="4.5"/><circle cx="264.7" cy="985.6" r="4.5"/><circle cx="270.2" cy="985.7" r="4.5"/><circle cx="241.4" cy="990.4" r="4.5"/><circle cx="269.3" cy="989.4" r="4.5"/><circle cx="246.0" cy="988.9" r="4.5"/><circle cx="249.8" cy="990.4" r="4.5"/><circle cx="254.4" cy="990.4" r="4.5"/><circle cx="260.6" cy="989.4" r="4.5"/><circle cx="264.8" cy="990.3" r="4.5"/><circle cx="244.9" cy="993.1" r="4.5"/><circle cx="265.5" cy="993.9" r="4.5"/><circle cx="247.6" cy="993.4" r="4.5"/><circle cx="251.7" cy="994.0" r="4.5"/><circle cx="257.7" cy="992.8" r="4.5"/><circle cx="261.3" cy="994.6" r="4.5"/><circle cx="243.2" cy="998.3" r="4.5"/><circle cx="264.4" cy="998.4" r="4.5"/><circle cx="247.1" cy="999.2" r="4.5"/><circle cx="251.1" cy="996.9" r="4.5"/><circle cx="256.0" cy="997.3" r="4.5"/><circle cx="260.2" cy="999.1" r="4.5"/><circle cx="245.6" cy="1001.5" r="4.5"/><circle cx="262.7" cy="1003.0" r="4.5"/><circle cx="248.2" cy="1002.5" r="4.5"/><circle cx="253.5" cy="1001.4" r="4.5"/><circle cx="258.8" cy="1001.1" r="4.5"/><circle cx="246.9" cy="1006.2" r="4.5"/><circle cx="262.0" cy="1005.5" r="4.5"/><circle cx="252.0" cy="1007.0" r="4.5"/><circle cx="257.7" cy="1005.5" r="4.5"/><circle cx="249.2" cy="1010.2" r="4.5"/><circle cx="259.4" cy="1010.6" r="4.5"/><circle cx="255.4" cy="1010.3" r="4.5"/><circle cx="249.8" cy="1015.2" r="4.5"/><circle cx="259.0" cy="1015.1" r="4.5"/><circle cx="254.5" cy="1015.8" r="4.5"/><circle cx="252.0" cy="1019.2" r="4.5"/><circle cx="257.9" cy="1019.1" r="4.5"/><circle cx="254.1" cy="1019.6" r="4.5"/><circle cx="252.9" cy="1022.5" r="4.5"/><circle cx="257.1" cy="1022.9" r="4.5"/><circle cx="254.9" cy="1026.8" r="4.5"/><circle cx="254.2" cy="1027.7" r="4.5"/><circle cx="254.5" cy="861.8" r="4.5"/><circle cx="254.5" cy="874.6" r="4.5"/><circle cx="251.6" cy="878.6" r="4.5"/><circle cx="257.9" cy="878.0" r="4.5"/><circle cx="254.5" cy="884.0" r="4.5"/><circle cx="254.5" cy="889.0" r="4.5"/><circle cx="250.5" cy="1035.5" r="4.5"/><circle cx="258.5" cy="1039.5" r="4.5"/><circle cx="252.8" cy="1050.9" r="4.5"/><circle cx="256.8" cy="1050.9" r="4.5"/><circle cx="254.5" cy="1105.8" r="4.5"/></g>
<path d="M112.4,838.5 V1136.5 H312.8" fill="none" stroke="#000" stroke-width="2.8"/>
<line x1="100.6" y1="838.5" x2="112.4" y2="838.5" stroke="#000" stroke-width="2.8"/>
<text x="97.6" y="848.0" font-size="23" font-weight="bold" fill="#000" text-anchor="end">10</text>
<line x1="100.6" y1="898.1" x2="112.4" y2="898.1" stroke="#000" stroke-width="2.8"/>
<text x="97.6" y="907.6" font-size="23" font-weight="bold" fill="#000" text-anchor="end">8</text>
<line x1="100.6" y1="957.7" x2="112.4" y2="957.7" stroke="#000" stroke-width="2.8"/>
<text x="97.6" y="967.2" font-size="23" font-weight="bold" fill="#000" text-anchor="end">6</text>
<line x1="100.6" y1="1017.3" x2="112.4" y2="1017.3" stroke="#000" stroke-width="2.8"/>
<text x="97.6" y="1026.8" font-size="23" font-weight="bold" fill="#000" text-anchor="end">4</text>
<line x1="100.6" y1="1076.9" x2="112.4" y2="1076.9" stroke="#000" stroke-width="2.8"/>
<text x="97.6" y="1086.4" font-size="23" font-weight="bold" fill="#000" text-anchor="end">2</text>
<line x1="100.6" y1="1136.5" x2="112.4" y2="1136.5" stroke="#000" stroke-width="2.8"/>
<text x="97.6" y="1146.0" font-size="23" font-weight="bold" fill="#000" text-anchor="end">0</text>
<text x="211" y="1168.3" font-size="24" font-weight="bold" fill="#000" text-anchor="middle">CTLA4</text>
<text transform="translate(56.8,987.5) rotate(-90)" font-size="24.3" font-weight="bold" fill="#000" text-anchor="middle">Expression</text>
<path d="M169.4,860 V827 H254.4 V843.6" fill="none" stroke="#000" stroke-width="2.6"/>
<text x="177.6" y="820.5" font-size="28.8" style="font-family:'DejaVu Sans',sans-serif;letter-spacing:3.2px" fill="#000" stroke="#000" stroke-width="1.0">****</text>
<circle cx="302.8" cy="843.3" r="4.4" fill="#847A3C"/>
<circle cx="302.8" cy="883.5" r="4.4" fill="#E37D7D"/>
<text x="315.3" y="851.7" font-size="23.9" fill="#000">HighRisk</text>
<text x="315.3" y="891.6" font-size="23.9" fill="#000">LowRisk</text>
<rect x="621.5" y="972.3" width="52.7" height="162.5" fill="#BBB27A" stroke="#000" stroke-width="2.6"/>
<rect x="704.7" y="898.0" width="53.5" height="236.8" fill="#E89C9E" stroke="#000" stroke-width="2.6"/>
<path d="M647.8,972.3 V953 M633.7,953 H661.3" fill="none" stroke="#000" stroke-width="2.6"/>
<path d="M731.4,898 V879.6 M717.6,879.6 H745.2" fill="none" stroke="#000" stroke-width="2.6"/>
<path d="M591.9,841.5 V1134.8 H788.3" fill="none" stroke="#000" stroke-width="2.6"/>
<line x1="579.7" y1="841.5" x2="591.9" y2="841.5" stroke="#000" stroke-width="2.6"/>
<text x="577" y="851.3" font-size="23.2" font-weight="bold" fill="#000" text-anchor="end">0.6</text>
<line x1="579.7" y1="939.3" x2="591.9" y2="939.3" stroke="#000" stroke-width="2.6"/>
<text x="577" y="949.1" font-size="23.2" font-weight="bold" fill="#000" text-anchor="end">0.4</text>
<line x1="579.7" y1="1037.0" x2="591.9" y2="1037.0" stroke="#000" stroke-width="2.6"/>
<text x="577" y="1046.8" font-size="23.2" font-weight="bold" fill="#000" text-anchor="end">0.2</text>
<line x1="579.7" y1="1134.8" x2="591.9" y2="1134.8" stroke="#000" stroke-width="2.6"/>
<text x="577" y="1144.6" font-size="23.2" font-weight="bold" fill="#000" text-anchor="end">0.0</text>
<line x1="648.3" y1="864.2" x2="730.6" y2="864.2" stroke="#000" stroke-width="2.8" stroke-linecap="round"/>
<text x="673.1" y="866.8" font-size="28.8" style="font-family:'DejaVu Sans',sans-serif;letter-spacing:2.9px" fill="#000" stroke="#000" stroke-width="1.0">**</text>
<text x="644" y="1158.5" font-size="24" fill="#000" text-anchor="middle">High</text>
<text x="739" y="1158.5" font-size="24" fill="#000" text-anchor="middle">Low</text>
<text transform="translate(531,988.4) rotate(-90)" font-size="24.5" font-weight="bold" fill="#000" text-anchor="middle">TMB (log10)</text>
<line x1="1085.8" y1="835.5" x2="1077.1" y2="720.4" stroke="#333" stroke-width="3.3"/>
<line x1="1085.8" y1="835.5" x2="981.9" y2="785.5" stroke="#333" stroke-width="3.3"/>
<line x1="1085.8" y1="835.5" x2="1181.0" y2="771.0" stroke="#333" stroke-width="3.3"/>
<line x1="1085.8" y1="835.5" x2="1188.3" y2="885.2" stroke="#333" stroke-width="3.3"/>
<line x1="1085.8" y1="835.5" x2="991.0" y2="900.8" stroke="#333" stroke-width="3.3"/>
<line x1="1085.8" y1="835.5" x2="1094.0" y2="949.6" stroke="#333" stroke-width="3.3"/>
<line x1="1385.9" y1="822.8" x2="1345.3" y2="720.9" stroke="#333" stroke-width="3.3"/>
<line x1="1385.9" y1="822.8" x2="1490.4" y2="788.1" stroke="#333" stroke-width="3.3"/>
<line x1="1385.9" y1="822.8" x2="1285.7" y2="868.7" stroke="#333" stroke-width="3.3"/>
<line x1="1385.9" y1="822.8" x2="1425.2" y2="923.8" stroke="#333" stroke-width="3.3"/>
<line x1="1047.7" y1="1096.5" x2="981.9" y2="1011.3" stroke="#333" stroke-width="3.3"/>
<line x1="1047.7" y1="1096.5" x2="1154.0" y2="1105.6" stroke="#333" stroke-width="3.3"/>
<line x1="1047.7" y1="1096.5" x2="1027.9" y2="1201.6" stroke="#333" stroke-width="3.3"/>
<line x1="1386.7" y1="1072.4" x2="1320.9" y2="986.9" stroke="#333" stroke-width="3.3"/>
<line x1="1386.7" y1="1072.4" x2="1493.2" y2="1080.9" stroke="#333" stroke-width="3.3"/>
<line x1="1386.7" y1="1072.4" x2="1367.4" y2="1177.2" stroke="#333" stroke-width="3.3"/>
<circle cx="1077.1" cy="720.4" r="18.3" fill="#D4F8C6" stroke="#74C257" stroke-width="1.4"/>
<circle cx="981.9" cy="785.5" r="18.3" fill="#D4F8C6" stroke="#74C257" stroke-width="1.4"/>
<circle cx="1181.0" cy="771.0" r="18.3" fill="#D4F8C6" stroke="#74C257" stroke-width="1.4"/>
<circle cx="1188.3" cy="885.2" r="18.3" fill="#D4F8C6" stroke="#74C257" stroke-width="1.4"/>
<circle cx="991.0" cy="900.8" r="18.3" fill="#D4F8C6" stroke="#74C257" stroke-width="1.4"/>
<circle cx="1094.0" cy="949.6" r="18.3" fill="#D4F8C6" stroke="#74C257" stroke-width="1.4"/>
<circle cx="1345.3" cy="720.9" r="18.3" fill="#D4F8C6" stroke="#74C257" stroke-width="1.4"/>
<circle cx="1490.4" cy="788.1" r="18.3" fill="#D4F8C6" stroke="#74C257" stroke-width="1.4"/>
<circle cx="1285.7" cy="868.7" r="18.3" fill="#D4F8C6" stroke="#74C257" stroke-width="1.4"/>
<circle cx="1425.2" cy="923.8" r="18.3" fill="#D4F8C6" stroke="#74C257" stroke-width="1.4"/>
<circle cx="981.9" cy="1011.3" r="18.3" fill="#D4F8C6" stroke="#74C257" stroke-width="1.4"/>
<circle cx="1154.0" cy="1105.6" r="18.3" fill="#D4F8C6" stroke="#74C257" stroke-width="1.4"/>
<circle cx="1027.9" cy="1201.6" r="18.3" fill="#D4F8C6" stroke="#74C257" stroke-width="1.4"/>
<circle cx="1320.9" cy="986.9" r="18.3" fill="#D4F8C6" stroke="#74C257" stroke-width="1.4"/>
<circle cx="1493.2" cy="1080.9" r="18.3" fill="#D4F8C6" stroke="#74C257" stroke-width="1.4"/>
<circle cx="1367.4" cy="1177.2" r="18.3" fill="#D4F8C6" stroke="#74C257" stroke-width="1.4"/>
<circle cx="1085.8" cy="835.5" r="18.3" fill="#E8C1C4" stroke="#6FAF4F" stroke-width="1.4"/>
<circle cx="1385.9" cy="822.8" r="18.3" fill="#E8C1C4" stroke="#6FAF4F" stroke-width="1.4"/>
<circle cx="1047.7" cy="1096.5" r="18.3" fill="#E8C1C4" stroke="#6FAF4F" stroke-width="1.4"/>
<circle cx="1386.7" cy="1072.4" r="18.3" fill="#E8C1C4" stroke="#6FAF4F" stroke-width="1.4"/>
<text x="1094.4" y="725.2" font-size="17.6" fill="#111" text-anchor="middle">hsa-miR-92a-3p</text>
<text x="998.4" y="790.5" font-size="17.6" fill="#111" text-anchor="middle">hsa-miR-32-5p</text>
<text x="1198.5" y="775.8" font-size="17.6" fill="#111" text-anchor="middle">hsa-miR-92b-3p</text>
<text x="1206.0" y="889.5" font-size="17.6" fill="#111" text-anchor="middle">hsa-miR-27a-3p</text>
<text x="1008.5" y="905.2" font-size="17.6" fill="#111" text-anchor="middle">hsa-miR-26b-5p</text>
<text x="1111.8" y="954.2" font-size="17.6" fill="#111" text-anchor="middle">hsa-miR-340-5p</text>
<text x="1363.2" y="725.0" font-size="17.6" fill="#111" text-anchor="middle">hsa-miR-576-3p</text>
<text x="1508.0" y="791.9" font-size="17.6" fill="#111" text-anchor="middle">hsa-miR-19a-3p</text>
<text x="1303.3" y="872.8" font-size="17.6" fill="#111" text-anchor="middle">hsa-miR-19b-3p</text>
<text x="1443.4" y="928.2" font-size="17.6" fill="#111" text-anchor="middle">hsa-miR-505-5p</text>
<text x="999.6" y="1015.7" font-size="17.6" fill="#111" text-anchor="middle">hsa-miR-424-5p</text>
<text x="1192.4" y="1110.0" font-size="17.6" fill="#111" text-anchor="middle">hsa-miR-107</text>
<text x="1045.1" y="1205.9" font-size="17.6" fill="#111" text-anchor="middle">hsa-miR-103a-3p</text>
<text x="1338.9" y="990.7" font-size="17.6" fill="#111" text-anchor="middle">hsa-miR-15b-5p</text>
<text x="1483.0" y="1095.0" font-size="17.6" fill="#111" text-anchor="middle">hsa-miR-33a-5p</text>
<text x="1383.4" y="1180.5" font-size="17.6" fill="#111" text-anchor="middle">hsa-miR-16-5p</text>
<text x="1088.2" y="841.6" font-size="17.6" fill="#E0141C" text-anchor="middle">SLC7A11</text>
<text x="1387.1" y="830.6" font-size="17.6" fill="#E0141C" text-anchor="middle">RAB7A</text>
<text x="1046.0" y="1104.0" font-size="17.6" fill="#E0141C" text-anchor="middle">INF2</text>
<text x="1376.4" y="1077.6" font-size="17.6" fill="#E0141C" text-anchor="middle">OXSM</text>
</svg></body></html>
